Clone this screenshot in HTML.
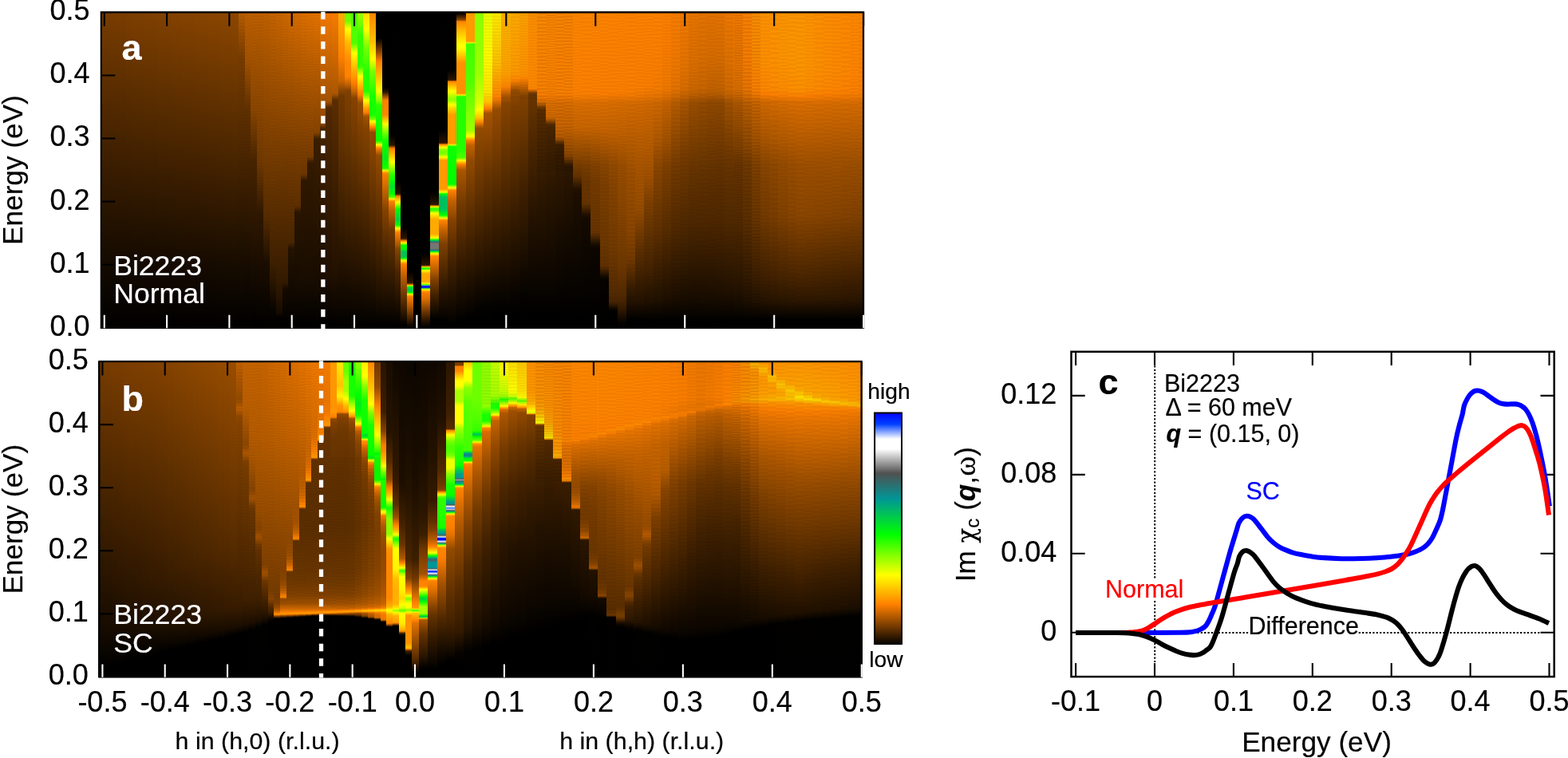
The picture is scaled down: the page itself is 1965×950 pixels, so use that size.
<!DOCTYPE html>
<html lang="en"><head><meta charset="utf-8"><title>Bi2223 charge susceptibility</title>
<style>html,body{margin:0;padding:0;background:#fff}#fig{position:relative;width:1965px;height:950px;overflow:hidden;background:#fff;font-family:"Liberation Sans", sans-serif}.hm{position:absolute;overflow:hidden;background:#000}.hm i{position:absolute;top:0;bottom:0;display:block}svg{position:absolute;left:0;top:0}text{font-family:"Liberation Sans", sans-serif;white-space:pre;stroke-width:.2px;stroke-linejoin:round}</style></head><body><div id="fig">
<div class="hm" style="left:125.8px;top:14.8px;width:957.7px;height:397.0px">
<i style="left:0.68px;width:8.43px;background:linear-gradient(#773c00 0px,#150b00 309px,#000 397px)"></i>
<i style="left:8.52px;width:8.43px;background:linear-gradient(#783c00 0px,#150b00 308px,#000 397px)"></i>
<i style="left:16.35px;width:8.43px;background:linear-gradient(#793d00 0px,#160b00 307px,#000 397px)"></i>
<i style="left:24.18px;width:8.43px;background:linear-gradient(#7a3d00 0px,#160b00 306px,#000 397px)"></i>
<i style="left:32.01px;width:8.43px;background:linear-gradient(#7c3e00 0px,#170b00 305px,#000 397px)"></i>
<i style="left:39.84px;width:8.43px;background:linear-gradient(#7d3f00 0px,#170c00 304px,#000 397px)"></i>
<i style="left:47.68px;width:8.43px;background:linear-gradient(#7e3f00 0px,#170c00 304px,#000 397px)"></i>
<i style="left:55.51px;width:8.43px;background:linear-gradient(#7f4000 0px,#180c00 303px,#000 397px)"></i>
<i style="left:63.34px;width:8.43px;background:linear-gradient(#804000 0px,#180c00 302px,#000 397px)"></i>
<i style="left:71.17px;width:8.43px;background:linear-gradient(#814100 0px,#190d00 301px,#000 397px)"></i>
<i style="left:79.00px;width:8.43px;background:linear-gradient(#824100 0px,#190d00 300px,#000 396px,#000 397px)"></i>
<i style="left:86.84px;width:8.43px;background:linear-gradient(#834200 0px,#190d00 302px,#000 396px,#000 397px)"></i>
<i style="left:94.67px;width:8.43px;background:linear-gradient(#844200 0px,#190d00 303px,#000 396px,#000 397px)"></i>
<i style="left:102.50px;width:8.43px;background:linear-gradient(#854300 0px,#190c00 305px,#000 396px,#000 397px)"></i>
<i style="left:110.33px;width:8.43px;background:linear-gradient(#864300 0px,#190c00 306px,#000 396px,#000 397px)"></i>
<i style="left:118.16px;width:8.43px;background:linear-gradient(#874400 0px,#180c00 308px,#000 396px,#000 397px)"></i>
<i style="left:126.00px;width:8.43px;background:linear-gradient(#840 0px,#180c00 310px,#000 396px,#000 397px)"></i>
<i style="left:133.83px;width:8.43px;background:linear-gradient(#894500 0px,#180c00 311px,#000 396px,#000 397px)"></i>
<i style="left:141.66px;width:8.43px;background:linear-gradient(#8a4500 0px,#180c00 313px,#000 396px,#000 397px)"></i>
<i style="left:149.49px;width:8.43px;background:linear-gradient(#8b4600 0px,#170c00 315px,#000 396px,#000 397px)"></i>
<i style="left:157.32px;width:8.43px;background:linear-gradient(#8c4600 0px,#170c00 317px,#000 396px,#000 397px)"></i>
<i style="left:165.16px;width:8.43px;background:linear-gradient(#8d4700 0px,#170c00 317px,#000 396px,#000 397px)"></i>
<i style="left:172.99px;width:8.43px;background:linear-gradient(#bb5e00 0px,#7a3d00 57px,#1f1000 294px,#000 395px,#000 397px)"></i>
<i style="left:180.82px;width:8.43px;background:linear-gradient(#c06000 0px,#a55300 61px,#623100 121px,#140a00 327px,#000 396px,#000 397px)"></i>
<i style="left:188.65px;width:8.43px;background:linear-gradient(#c06000 0px,#8b4600 123px,#482400 187px,#000 390px,#000 397px)"></i>
<i style="left:196.48px;width:8.43px;background:linear-gradient(#c06000 0px,#6f3800 191px,#311800 252px,#000 394px,#000 397px)"></i>
<i style="left:204.32px;width:8.43px;background:linear-gradient(#c26200 0px,#683400 219px,#582c00 256px,#1c0e00 314px,#000 394px,#000 397px)"></i>
<i style="left:212.15px;width:8.43px;background:linear-gradient(#c76400 0px,#6d3700 206px,#3f2000 315px,#070400 374px,#000 395px,#000 397px)"></i>
<i style="left:219.98px;width:8.43px;background:linear-gradient(#c60 0px,#713900 196px,#3d1f00 321px,#281400 356px,#160b00 376px,#030100 383px,#000 397px)"></i>
<i style="left:227.81px;width:8.43px;background:linear-gradient(#d06900 0px,#743a00 189px,#3c1e00 324px,#311800 340px,#150a00 347px,#000 392px,#000 397px)"></i>
<i style="left:235.64px;width:8.43px;background:linear-gradient(#d56b00 0px,#783c00 181px,#4b2600 289px,#311900 294px,#231200 297px,#0f0700 359px,#000 393px,#000 397px)"></i>
<i style="left:243.48px;width:8.43px;background:linear-gradient(#da6d00 0px,#7b3e00 176px,#5f3000 243px,#4e2700 246px,#301800 250px,#2a1500 253px,#150b00 344px,#000 393px,#000 397px)"></i>
<i style="left:251.31px;width:8.43px;background:linear-gradient(#df7000 0px,#7e3f00 171px,#6e3700 203px,#5a2d00 206px,#371c00 210px,#301800 212px,#190d00 334px,#000 393px,#000 397px)"></i>
<i style="left:259.14px;width:8.43px;background:linear-gradient(#e37200 0px,#804000 168px,#783c00 181px,#623100 184px,#3c1e00 188px,#341a00 190px,#190d00 334px,#000 393px,#000 397px)"></i>
<i style="left:266.97px;width:8.43px;background:linear-gradient(#e87400 0px,#840 151px,#6f3800 154px,#452300 158px,#3c1e00 160px,#281400 264px,#140a00 347px,#000 393px,#000 397px)"></i>
<i style="left:274.80px;width:8.43px;background:linear-gradient(#ed7700 0px,#904800 139px,#814100 141px,#4c2600 146px,#432200 148px,#2e1700 240px,#1a0d00 337px,#000 392px,#000 397px)"></i>
<i style="left:282.64px;width:8.43px;background:linear-gradient(#f27900 0px,#a25200 112px,#934a00 114px,#5a2d00 119px,#502800 121px,#351a00 231px,#1f0f00 330px,#000 392px,#000 397px)"></i>
<i style="left:290.47px;width:8.43px;background:linear-gradient(#f67c00 0px,#ab5600 102px,#9c4e00 104px,#643200 109px,#5a2d00 111px,#3a1d00 227px,#241200 322px,#0c0600 370px,#000 391px,#000 397px)"></i>
<i style="left:298.30px;width:8.43px;background:linear-gradient(#ffaf00 0px,#fd7f00 56px,#c66300 87px,#904800 97px,#6e3700 106px,#5f3000 166px,#0e0700 368px,#000 394px,#000 397px)"></i>
<i style="left:306.13px;width:8.43px;background:linear-gradient(#6cff00 0px,#6cff00 11px,#72ff00 12px,#f4ff00 21px,#fffe00 22px,#fb0 38px,#ff8700 63px,#ff8100 81px,#b95d00 92px,#7f4000 99px,#3d1f00 263px,#0c0600 371px,#000 395px,#000 397px)"></i>
<i style="left:313.96px;width:8.43px;background:linear-gradient(#4fff00 0px,#4fff00 39px,#f5ff00 51px,#fffe00 52px,#ffb600 71px,#fe7f00 89px,#c16100 100px,#864300 108px,#0e0700 371px,#000 394px,#000 397px)"></i>
<i style="left:321.80px;width:8.43px;background:linear-gradient(#a7ff00 0px,#32ff00 30px,#32ff00 68px,#f4ff00 80px,#fffd00 81px,#ff8e00 100px,#ff8200 103px,#fb7e00 104px,#954b00 114px,#783c00 157px,#0c0600 373px,#000 394px,#000 397px)"></i>
<i style="left:329.63px;width:8.43px;background:linear-gradient(#ffd700 0px,#fdff00 22px,#7cff00 43px,#23ff00 75px,#23ff00 99px,#79ff00 105px,#fcff00 111px,#ffd700 115px,#ff9a00 121px,#ff8400 125px,#fa7e00 126px,#b05800 130px,#a25100 131px,#844200 146px,#0f0800 370px,#000 394px,#000 397px)"></i>
<i style="left:337.46px;width:8.43px;background:linear-gradient(#ff8300 0px,#ffc200 38px,#ff0 59px,#7cff00 74px,#15ff00 106px,#15ff00 129px,#6aff00 134px,#c7ff00 136px,#f8ff00 137px,#fff000 138px,#ff8900 144px,#f77c00 145px,#a05100 150px,#934a00 151px,#3e1f00 293px,#0c0600 376px,#000 394px,#000 397px)"></i>
<i style="left:345.29px;width:8.43px;background:linear-gradient(#000 0px,#000 33px,#964c00 51px,#ff8000 62px,#fffe00 99px,#7aff00 112px,#26ff00 117px,#06ff00 160px,#0bff00 161px,#68ff00 164px,#abff00 165px,#f4ff00 166px,#ffe800 167px,#fd7f00 171px,#9b4e00 179px,#934a00 180px,#643200 243px,#1f1000 354px,#000 393px,#000 397px)"></i>
<i style="left:353.12px;width:8.43px;background:linear-gradient(#000 0px,#000 95px,#271400 100px,#341a00 101px,#f17900 110px,#ff8000 111px,#ff8700 129px,#fff700 140px,#fcff00 141px,#79ff00 151px,#14ff00 161px,#00ff01 169px,#00ed19 183px,#03ff00 192px,#1f0 195px,#1dff00 196px,#54ff00 197px,#bdff00 198px,#ffec00 199px,#ff8500 202px,#fa7d00 204px,#844200 248px,#532a00 292px,#100800 375px,#000 392px,#000 397px)"></i>
<i style="left:360.96px;width:8.43px;background:linear-gradient(#000 0px,#020100 155px,#2c1600 167px,#5d2f00 168px,#cf6800 170px,#ff8100 171px,#fffc00 188px,#e9ff00 190px,#2cff00 204px,#2f0 205px,#1f0 210px,#00fe02 212px,#00e22a 218px,#00e12a 219px,#00fe02 228px,#0eff00 229px,#57ff00 232px,#7dff00 233px,#ef0 234px,#ffdb00 235px,#ff8600 237px,#fa7e00 238px,#c46200 248px,#6e3700 273px,#371c00 329px,#0e0700 377px,#000 393px,#000 397px)"></i>
<i style="left:368.79px;width:8.43px;background:linear-gradient(#000 0px,#020100 213px,#2c1600 228px,#6c3600 229px,#ff8100 231px,#fff600 238px,#f2ff00 239px,#04ff00 247px,#00f809 249px,#00d33f 260px,#00fe01 267px,#36ff00 268px,#f5ff00 271px,#ffe900 272px,#ff8400 276px,#f07900 279px,#ab5600 292px,#864300 297px,#482400 327px,#000 392px,#000 397px)"></i>
<i style="left:376.62px;width:8.43px;background:linear-gradient(#000 0px,#000 270px,#2c1600 284px,#743a00 285px,#c86400 286px,#ff8f00 287px,#ffe300 289px,#dbff00 290px,#0fff00 292px,#0f0 293px,#00fe01 297px,#00c750 300px,#00c454 302px,#00c454 307px,#00e22a 308px,#0fff00 309px,#dbff00 311px,#ffec00 312px,#ff9600 315px,#fe7f00 316px,#bd5f00 331px,#733a00 353px,#000 392px,#000 397px)"></i>
<i style="left:384.45px;width:8.43px;background:linear-gradient(#000 0px,#000 325px,#2a1500 339px,#4a2500 340px,#f27a00 342px,#e9ff00 343px,#00fe02 344px,#00cf45 346px,#00cb4a 347px,#00cb4a 349px,#00d240 350px,#00fc04 352px,#b5ff00 353px,#ffe400 354px,#ff9200 356px,#fc7e00 357px,#b85c00 368px,#2d1600 388px,#000 395px,#000 397px)"></i>
<i style="left:392.28px;width:10.11px;background:linear-gradient(#000 0px,#000 397px)"></i>
<i style="left:401.80px;width:11.80px;background:linear-gradient(#000 0px,#000 303px,#2a1500 317px,#6a3500 318px,#ff9700 319px,#bf0 320px,#15ff00 321px,#1bff00 322px,#96ff00 323px,#fffc00 324px,#ffa800 328px,#ffa500 332px,#ffa500 338px,#ffc200 339px,#ffe500 340px,#ceff00 341px,#0aff00 342px,#5781ff 343px,#00f 344px,#00f 345px,#148484 346px,#75ff00 347px,#fff100 348px,#ffa200 350px,#fe8000 351px,#da6d00 360px,#703800 375px,#261300 387px,#000 395px,#000 397px)"></i>
<i style="left:412.99px;width:11.80px;background:linear-gradient(#000 0px,#000 226px,#2a1500 241px,#4c2600 242px,#ff8d00 243px,#ffe000 244px,#b2ff00 245px,#38ff00 246px,#32ff00 247px,#32ff00 248px,#4bff00 249px,#f6ff00 252px,#fff500 253px,#fa0 260px,#fa0 278px,#ffb200 279px,#fff900 283px,#b4ff00 284px,#40ff00 285px,#00e624 286px,#00af72 287px,#1f7b7b 288px,#616161 289px,#757575 290px,#757575 297px,#336a6a 298px,#009991 299px,#00db34 300px,#3cff00 301px,#c3ff00 302px,#ffed00 303px,#ff8c00 306px,#ff8100 308px,#c56300 321px,#7d3f00 336px,#412100 355px,#000 385px,#000 397px)"></i>
<i style="left:424.19px;width:11.80px;background:linear-gradient(#000 0px,#020100 149px,#2b1500 164px,#7b3e00 165px,#f80 166px,#ffed00 169px,#efff00 170px,#81ff00 173px,#7bff00 174px,#7bff00 178px,#b8ff00 180px,#faff00 182px,#ffcd00 184px,#ff9b00 186px,#ff9b00 222px,#fc0 224px,#ffe600 225px,#f8ff00 226px,#72ff00 227px,#00fd03 228px,#00c05a 232px,#00be5e 236px,#00be5e 247px,#00f909 254px,#1f0 255px,#daff00 258px,#ffe800 259px,#ff8300 261px,#bc5e00 275px,#7d3f00 291px,#2f1800 345px,#000 387px,#000 397px)"></i>
<i style="left:435.39px;width:11.80px;background:linear-gradient(#000 0px,#000 72px,#2a1500 85px,#6a3500 86px,#ff8200 87px,#fffb00 99px,#ecff00 101px,#9aff00 108px,#98ff00 111px,#fcff00 116px,#ffd100 121px,#ff9c00 129px,#ff9b00 165px,#ffdc00 166px,#b9ff00 167px,#3aff00 168px,#0dff00 169px,#0f0 215px,#03ff00 216px,#ebff00 220px,#ffe400 221px,#ff9200 223px,#fc7f00 224px,#c46200 236px,#824100 262px,#452200 311px,#000 393px,#000 397px)"></i>
<i style="left:446.58px;width:11.80px;background:linear-gradient(#000 0px,#000 1px,#060300 2px,#8c4600 10px,#ff8200 12px,#ffc900 27px,#ff0 41px,#ff0 45px,#ffac00 59px,#ff9200 64px,#ff9100 102px,#ffba00 103px,#ffe900 104px,#9aff00 105px,#23ff00 106px,#23ff00 173px,#4eff00 183px,#87ff00 184px,#c8ff00 185px,#fffb00 186px,#fd7f00 191px,#ab5600 198px,#723900 240px,#361b00 312px,#000 388px,#000 397px)"></i>
<i style="left:457.78px;width:11.80px;background:linear-gradient(#ff9b00 0px,#ff9b00 37px,#ffd400 38px,#c7ff00 39px,#41ff00 40px,#52ff00 87px,#84ff00 127px,#98ff00 148px,#f5ff00 155px,#fff900 156px,#fd7f00 161px,#c16100 167px,#934a00 186px,#542a00 261px,#000 383px,#000 397px)"></i>
<i style="left:468.97px;width:11.80px;background:linear-gradient(#8aff00 0px,#9bff00 76px,#d6ff00 113px,#feff00 123px,#ffbf00 133px,#ff8200 138px,#9e4f00 145px,#934a00 146px,#6d3700 207px,#3f2000 278px,#040200 371px,#000 386px,#000 397px)"></i>
<i style="left:480.17px;width:11.80px;background:linear-gradient(#e9ff00 0px,#fffd00 55px,#ffe800 100px,#ffc300 112px,#fd7f00 121px,#a45200 127px,#630 204px,#301800 294px,#030200 370px,#000 390px,#000 397px)"></i>
<i style="left:491.37px;width:11.80px;background:linear-gradient(#ffeb00 0px,#ffbf00 65px,#ff8500 106px,#ff8100 107px,#954b00 122px,#412100 253px,#060300 363px,#000 379px,#000 397px)"></i>
<i style="left:502.56px;width:11.80px;background:linear-gradient(#ffb400 0px,#ffa200 76px,#ff8700 93px,#fb7e00 95px,#a85400 106px,#854300 115px,#2d1700 283px,#0a0500 355px,#000 376px,#000 397px)"></i>
<i style="left:513.76px;width:11.80px;background:linear-gradient(#fa0 0px,#f90 75px,#ff8700 85px,#ff8200 86px,#e07100 90px,#954b00 99px,#7c3e00 118px,#2d1700 273px,#060300 359px,#000 377px,#000 397px)"></i>
<i style="left:524.95px;width:11.80px;background:linear-gradient(#ffa000 0px,#ff9100 80px,#ff8100 84px,#a75400 99px,#814100 106px,#422100 216px,#030200 359px,#000 385px,#000 397px)"></i>
<i style="left:536.15px;width:11.80px;background:linear-gradient(#ff8e00 0px,#f80 95px,#ff8400 96px,#f47b00 97px,#be5f00 99px,#864300 101px,#723900 102px,#693500 103px,#482400 173px,#210 264px,#000 378px,#000 397px)"></i>
<i style="left:547.35px;width:11.80px;background:linear-gradient(#ff8b00 0px,#ff8400 101px,#fe7f00 105px,#e37200 112px,#c06100 115px,#713900 120px,#5d2f00 122px,#582c00 126px,#2d1700 224px,#000 378px,#000 397px)"></i>
<i style="left:558.54px;width:11.80px;background:linear-gradient(#ff8900 0px,#ff8300 102px,#fd7f00 105px,#e07100 114px,#d36a00 132px,#c16100 134px,#633200 140px,#4f2800 142px,#4a2500 146px,#2b1600 219px,#000 379px,#000 397px)"></i>
<i style="left:569.74px;width:11.80px;background:linear-gradient(#ff8700 0px,#ff8200 102px,#fc7e00 105px,#df7000 114px,#ca6500 145px,#b65b00 157px,#a35200 159px,#4e2700 165px,#3d1f00 167px,#341a00 181px,#130a00 295px,#000 381px,#000 397px)"></i>
<i style="left:580.93px;width:11.80px;background:linear-gradient(#ff8600 0px,#ff8200 102px,#fb7e00 105px,#df7000 114px,#c96500 145px,#9f5000 170px,#8b4600 180px,#713900 184px,#391c00 191px,#2c1600 194px,#0e0700 309px,#000 383px,#000 397px)"></i>
<i style="left:592.13px;width:11.80px;background:linear-gradient(#ff8600 0px,#ff8100 102px,#fa7e00 105px,#de7000 114px,#c96500 145px,#a05100 169px,#723900 196px,#643200 206px,#261300 221px,#1e0f00 226px,#000 383px,#000 397px)"></i>
<i style="left:603.33px;width:11.80px;background:linear-gradient(#ff8500 0px,#ff8100 102px,#f37a00 107px,#de6f00 114px,#c96500 145px,#a25200 168px,#793d00 193px,#6a3500 213px,#630 239px,#542a00 244px,#1c0e00 255px,#140a00 260px,#000 386px,#000 397px)"></i>
<i style="left:614.52px;width:11.80px;background:linear-gradient(#ff8500 0px,#ff8000 102px,#e87500 110px,#dd6f00 114px,#c96500 145px,#814100 193px,#743a00 214px,#683400 275px,#582c00 280px,#1a0d00 291px,#0d0600 296px,#000 388px,#000 397px)"></i>
<i style="left:625.72px;width:11.80px;background:linear-gradient(#ff8400 0px,#fe7f00 103px,#dd6f00 114px,#c86400 147px,#894500 193px,#7d3f00 216px,#6d3700 288px,#613100 317px,#532a00 321px,#100800 332px,#060300 336px,#000 391px,#000 397px)"></i>
<i style="left:636.91px;width:11.80px;background:linear-gradient(#ff8400 0px,#fd7f00 102px,#db6e00 114px,#c56300 149px,#924900 193px,#864300 221px,#733a00 293px,#562b00 350px,#472400 363px,#311900 367px,#080400 373px,#000 376px,#000 397px)"></i>
<i style="left:648.11px;width:11.80px;background:linear-gradient(#ff8300 0px,#fd7f00 100px,#f87c00 104px,#da6d00 114px,#c06100 153px,#994d00 194px,#8c4600 240px,#6d3700 320px,#522900 356px,#361b00 371px,#060300 389px,#000 397px)"></i>
<i style="left:659.31px;width:11.80px;background:linear-gradient(#ff8200 0px,#fd7f00 98px,#f67c00 104px,#d86c00 114px,#b95d00 161px,#a05000 199px,#894500 273px,#723900 310px,#331a00 349px,#201000 365px,#000 386px,#000 397px)"></i>
<i style="left:670.50px;width:11.80px;background:linear-gradient(#ff8200 0px,#fc7f00 96px,#f47a00 104px,#d66b00 114px,#a50 193px,#964c00 248px,#763b00 276px,#5e2f00 299px,#231100 363px,#000 386px,#000 397px)"></i>
<i style="left:681.70px;width:11.80px;background:linear-gradient(#ff8200 0px,#fb7e00 93px,#f07800 104px,#d36a00 114px,#ac5600 187px,#a05000 207px,#7f4000 238px,#412100 326px,#1e0f00 364px,#000 387px,#000 397px)"></i>
<i style="left:692.89px;width:11.80px;background:linear-gradient(#ff8200 0px,#fb7e00 78px,#f67c00 97px,#e87500 105px,#cf6800 114px,#ae5700 162px,#8c4600 193px,#5f2f00 274px,#211100 359px,#000 387px,#000 397px)"></i>
<i style="left:704.09px;width:11.80px;background:linear-gradient(#ff8000 0px,#f47a00 86px,#ef7800 97px,#e07000 105px,#c66300 114px,#a05100 162px,#804000 193px,#572c00 273px,#1c0e00 361px,#000 387px,#000 397px)"></i>
<i style="left:715.29px;width:11.80px;background:linear-gradient(#f97d00 0px,#f07800 65px,#e67300 96px,#d36a00 105px,#b75c00 114px,#8a4500 169px,#743a00 194px,#502800 273px,#1a0d00 360px,#000 387px,#000 397px)"></i>
<i style="left:726.48px;width:11.80px;background:linear-gradient(#f27900 0px,#e77400 61px,#da6d00 96px,#c66300 105px,#a95500 114px,#743a00 184px,#492500 279px,#150b00 364px,#000 388px,#000 397px)"></i>
<i style="left:737.68px;width:11.80px;background:linear-gradient(#e97500 0px,#dc6f00 60px,#cd6700 96px,#bd5f00 104px,#9b4e00 114px,#673400 198px,#4b2600 269px,#140a00 364px,#000 388px,#000 397px)"></i>
<i style="left:748.87px;width:11.80px;background:linear-gradient(#e77400 0px,#d96d00 59px,#c96500 96px,#b85c00 104px,#954b00 114px,#653300 199px,#4c2600 267px,#160b00 362px,#000 388px,#000 397px)"></i>
<i style="left:760.07px;width:11.80px;background:linear-gradient(#e67300 0px,#d66c00 58px,#c26200 97px,#b45a00 104px,#914900 113px,#633200 199px,#4d2600 265px,#170c00 361px,#000 388px,#000 397px)"></i>
<i style="left:771.27px;width:11.80px;background:linear-gradient(#e77400 0px,#d66c00 59px,#c36200 97px,#b45b00 104px,#914900 113px,#623100 198px,#4e2700 263px,#1a0d00 359px,#000 387px,#000 397px)"></i>
<i style="left:782.46px;width:11.80px;background:linear-gradient(#ef7800 0px,#df7000 63px,#d06800 97px,#c36200 104px,#a05100 114px,#6e3700 181px,#653300 198px,#512900 262px,#211000 351px,#0b0500 375px,#000 388px,#000 397px)"></i>
<i style="left:793.66px;width:11.80px;background:linear-gradient(#f77c00 0px,#e77400 72px,#dd6f00 97px,#d16900 104px,#b15900 114px,#834200 166px,#693400 192px,#542a00 261px,#271400 344px,#170c00 365px,#000 387px,#000 397px)"></i>
<i style="left:804.85px;width:11.80px;background:linear-gradient(#ff8400 0px,#fc7f00 56px,#e70 97px,#e27100 104px,#bf6000 114px,#934a00 163px,#723900 192px,#5d2f00 260px,#301800 338px,#1c0e00 364px,#000 387px,#000 397px)"></i>
<i style="left:816.05px;width:11.80px;background:linear-gradient(#ff8f00 0px,#ff8a00 64px,#ff8200 97px,#f77c00 103px,#cd6700 113px,#a35200 162px,#814100 192px,#6b3600 258px,#3a1d00 334px,#211100 363px,#000 386px,#000 397px)"></i>
<i style="left:827.25px;width:11.80px;background:linear-gradient(#ff9200 0px,#ff8f00 62px,#ff8700 97px,#fe8000 103px,#d26900 113px,#a95500 162px,#894500 192px,#733a00 257px,#3f1f00 333px,#251300 362px,#000 386px,#000 397px)"></i>
<i style="left:838.44px;width:11.80px;background:linear-gradient(#ff9300 0px,#ff9100 63px,#ff8a00 97px,#fe7f00 104px,#d56b00 113px,#ac5700 163px,#8f4800 192px,#7a3d00 256px,#432100 332px,#271400 362px,#000 386px,#000 397px)"></i>
<i style="left:849.64px;width:11.80px;background:linear-gradient(#ff9400 0px,#ff9300 63px,#ff8c00 97px,#fd7f00 105px,#d86d00 113px,#af5800 165px,#954b00 192px,#814100 255px,#462300 332px,#291500 362px,#000 386px,#000 397px)"></i>
<i style="left:860.83px;width:11.80px;background:linear-gradient(#ff9500 0px,#ff9500 64px,#ff8f00 97px,#ff8500 104px,#f87c00 107px,#dc6e00 113px,#b15900 167px,#9a4d00 193px,#840 254px,#4a2500 331px,#2b1600 362px,#000 386px,#000 397px)"></i>
<i style="left:872.03px;width:11.80px;background:linear-gradient(#ff9500 0px,#ff9600 64px,#ff9000 97px,#ff8500 104px,#fe7f00 106px,#de6f00 113px,#b25900 169px,#9e4f00 193px,#8c4600 254px,#4a2500 333px,#2e1700 361px,#000 386px,#000 397px)"></i>
<i style="left:883.23px;width:11.80px;background:linear-gradient(#ff9200 0px,#ff9300 66px,#ff8d00 97px,#ff8000 105px,#dd6f00 113px,#af5800 172px,#9e4f00 194px,#8b4600 254px,#432100 340px,#2c1600 362px,#000 386px,#000 397px)"></i>
<i style="left:894.42px;width:11.80px;background:linear-gradient(#ff8f00 0px,#ff8f00 69px,#ff8a00 97px,#ff8000 104px,#db6e00 114px,#ae5700 173px,#9e4f00 194px,#8a4500 254px,#361b00 353px,#291500 363px,#000 386px,#000 397px)"></i>
<i style="left:905.62px;width:11.80px;background:linear-gradient(#ff8d00 0px,#ff8c00 72px,#ff8700 97px,#ff8000 103px,#da6d00 114px,#a50 177px,#9d4f00 196px,#840 254px,#2f1800 359px,#000 386px,#000 397px)"></i>
<i style="left:916.81px;width:11.80px;background:linear-gradient(#ff8b00 0px,#ff8900 74px,#ff8500 97px,#fd7f00 103px,#d96d00 114px,#a45200 183px,#974c00 212px,#864300 255px,#2d1700 360px,#000 386px,#000 397px)"></i>
<i style="left:928.01px;width:11.80px;background:linear-gradient(#ff8900 0px,#ff8700 77px,#ff8200 98px,#f87d00 104px,#d86d00 114px,#9c4e00 195px,#844200 255px,#2b1500 361px,#000 386px,#000 397px)"></i>
<i style="left:939.21px;width:11.80px;background:linear-gradient(#ff8700 0px,#ff8400 79px,#fd7f00 100px,#f77c00 104px,#d86c00 114px,#9b4e00 195px,#824100 255px,#2a1500 361px,#000 386px,#000 397px)"></i>
<i style="left:950.40px;width:7.65px;background:linear-gradient(#ff8500 0px,#ff8100 83px,#fb7e00 99px,#f57b00 104px,#d76c00 114px,#9a4d00 196px,#804000 256px,#281400 362px,#000 386px,#000 397px)"></i>
<i style="left:173.29px;width:7.83px;top:0.5px;height:330.0px;background:repeating-linear-gradient(#0000 0,#0001 2.05px,#0000 4.10px)"></i>
<i style="left:181.12px;width:7.83px;top:0.5px;height:330.0px;background:repeating-linear-gradient(#0000 0,#0001 1.35px,#0000 2.70px)"></i>
<i style="left:188.95px;width:7.83px;top:0.5px;height:330.0px;background:repeating-linear-gradient(#0000 0,#0001 1.87px,#0000 3.73px)"></i>
<i style="left:196.78px;width:7.83px;top:0.5px;height:330.0px;background:repeating-linear-gradient(#0000 0,#0001 1.81px,#0000 3.61px)"></i>
<i style="left:204.62px;width:7.83px;top:0.5px;height:330.0px;background:repeating-linear-gradient(#0000 0,#0001 1.38px,#0000 2.76px)"></i>
<i style="left:212.45px;width:7.83px;top:0.5px;height:330.0px;background:repeating-linear-gradient(#0000 0,#0001 2.07px,#0000 4.13px)"></i>
<i style="left:220.28px;width:7.83px;top:0.5px;height:330.0px;background:repeating-linear-gradient(#0000 0,#0001 1.48px,#0000 2.96px)"></i>
<i style="left:228.11px;width:7.83px;top:0.5px;height:330.0px;background:repeating-linear-gradient(#0000 0,#0001 1.66px,#0000 3.32px)"></i>
<i style="left:235.94px;width:7.83px;top:0.5px;height:330.0px;background:repeating-linear-gradient(#0000 0,#0001 1.98px,#0000 3.96px)"></i>
<i style="left:243.78px;width:7.83px;top:0.5px;height:330.0px;background:repeating-linear-gradient(#0000 0,#0001 1.33px,#0000 2.65px)"></i>
<i style="left:251.61px;width:7.83px;top:0.5px;height:330.0px;background:repeating-linear-gradient(#0000 0,#0001 1.97px,#0000 3.94px)"></i>
<i style="left:259.44px;width:7.83px;top:0.5px;height:330.0px;background:repeating-linear-gradient(#0000 0,#0001 1.68px,#0000 3.36px)"></i>
<i style="left:267.27px;width:7.83px;top:0.5px;height:330.0px;background:repeating-linear-gradient(#0000 0,#0001 1.46px,#0000 2.93px)"></i>
<i style="left:480.47px;width:11.20px;top:0.5px;height:110.0px;background:repeating-linear-gradient(#0000 0,#0001 1.93px,#0000 3.87px)"></i>
<i style="left:491.67px;width:11.20px;top:0.5px;height:110.0px;background:repeating-linear-gradient(#0000 0,#0001 1.95px,#0000 3.91px)"></i>
<i style="left:502.86px;width:11.20px;top:0.5px;height:110.0px;background:repeating-linear-gradient(#0000 0,#0001 1.44px,#0000 2.88px)"></i>
<i style="left:514.06px;width:11.20px;top:0.5px;height:110.0px;background:repeating-linear-gradient(#0000 0,#0001 2.18px,#0000 4.35px)"></i>
<i style="left:525.25px;width:11.20px;top:0.5px;height:110.0px;background:repeating-linear-gradient(#0000 0,#0001 1.61px,#0000 3.21px)"></i>
<i style="left:536.45px;width:11.20px;top:0.5px;height:110.0px;background:repeating-linear-gradient(#0000 0,#0001 1.71px,#0000 3.42px)"></i>
<i style="left:547.65px;width:11.20px;top:0.5px;height:200.0px;background:repeating-linear-gradient(#0000 0,#0002 2.25px,#0000 4.49px)"></i>
<i style="left:558.84px;width:11.20px;top:0.5px;height:200.0px;background:repeating-linear-gradient(#0000 0,#0002 1.49px,#0000 2.97px)"></i>
<i style="left:570.04px;width:11.20px;top:0.5px;height:200.0px;background:repeating-linear-gradient(#0000 0,#0002 2.16px,#0000 4.33px)"></i>
<i style="left:581.23px;width:11.20px;top:0.5px;height:200.0px;background:repeating-linear-gradient(#0000 0,#0002 1.92px,#0000 3.85px)"></i>
<i style="left:592.43px;width:11.20px;top:0.5px;height:360.0px;background:repeating-linear-gradient(#0000 0,#0001 1.77px,#0000 3.54px)"></i>
<i style="left:603.63px;width:11.20px;top:0.5px;height:360.0px;background:repeating-linear-gradient(#0000 0,#0001 2.56px,#0000 5.12px)"></i>
<i style="left:614.82px;width:11.20px;top:0.5px;height:360.0px;background:repeating-linear-gradient(#0000 0,#0001 1.75px,#0000 3.50px)"></i>
<i style="left:626.02px;width:11.20px;top:0.5px;height:360.0px;background:repeating-linear-gradient(#0000 0,#0001 2.15px,#0000 4.30px)"></i>
<i style="left:637.21px;width:11.20px;top:0.5px;height:360.0px;background:repeating-linear-gradient(#0000 0,#0001 2.37px,#0000 4.74px)"></i>
<i style="left:648.41px;width:11.20px;top:0.5px;height:360.0px;background:repeating-linear-gradient(#0000 0,#0001 1.65px,#0000 3.29px)"></i>
<i style="left:659.61px;width:11.20px;top:0.5px;height:360.0px;background:repeating-linear-gradient(#0000 0,#0001 2.50px,#0000 4.99px)"></i>
<i style="left:670.80px;width:11.20px;top:0.5px;height:360.0px;background:repeating-linear-gradient(#0000 0,#0001 1.97px,#0000 3.94px)"></i>
<i style="left:682.00px;width:11.20px;top:0.5px;height:360.0px;background:repeating-linear-gradient(#0000 0,#0001 1.90px,#0000 3.79px)"></i>
<i style="left:693.19px;width:11.20px;top:0.5px;height:360.0px;background:repeating-linear-gradient(#0000 0,#0001 2.53px,#0000 5.06px)"></i>
<i style="left:704.39px;width:11.20px;top:0.5px;height:380.0px;background:repeating-linear-gradient(#0000 0,#0001 1.83px,#0000 3.66px)"></i>
<i style="left:715.59px;width:11.20px;top:0.5px;height:380.0px;background:repeating-linear-gradient(#0000 0,#0001 2.52px,#0000 5.05px)"></i>
<i style="left:726.78px;width:11.20px;top:0.5px;height:380.0px;background:repeating-linear-gradient(#0000 0,#0001 2.44px,#0000 4.89px)"></i>
<i style="left:737.98px;width:11.20px;top:0.5px;height:380.0px;background:repeating-linear-gradient(#0000 0,#0001 1.87px,#0000 3.73px)"></i>
<i style="left:749.17px;width:11.20px;top:0.5px;height:380.0px;background:repeating-linear-gradient(#0000 0,#0001 2.80px,#0000 5.59px)"></i>
<i style="left:760.37px;width:11.20px;top:0.5px;height:380.0px;background:repeating-linear-gradient(#0000 0,#0001 2.00px,#0000 4.01px)"></i>
<i style="left:771.57px;width:11.20px;top:0.5px;height:380.0px;background:repeating-linear-gradient(#0000 0,#0001 2.24px,#0000 4.48px)"></i>
<i style="left:782.76px;width:11.20px;top:0.5px;height:380.0px;background:repeating-linear-gradient(#0000 0,#0001 2.68px,#0000 5.37px)"></i>
<i style="left:793.96px;width:11.20px;top:0.5px;height:390.0px;background:repeating-linear-gradient(#0000 0,#0002 1.56px,#0000 3.12px)"></i>
<i style="left:805.15px;width:11.20px;top:0.5px;height:390.0px;background:repeating-linear-gradient(#0000 0,#0002 2.32px,#0000 4.63px)"></i>
<i style="left:816.35px;width:11.20px;top:0.5px;height:390.0px;background:repeating-linear-gradient(#0000 0,#0002 1.98px,#0000 3.95px)"></i>
<i style="left:827.55px;width:11.20px;top:0.5px;height:385.0px;background:repeating-linear-gradient(#0000 0,#0001 2.15px,#0000 4.30px)"></i>
<i style="left:838.74px;width:11.20px;top:0.5px;height:385.0px;background:repeating-linear-gradient(#0000 0,#0001 3.04px,#0000 6.09px)"></i>
<i style="left:849.94px;width:11.20px;top:0.5px;height:385.0px;background:repeating-linear-gradient(#0000 0,#0001 2.05px,#0000 4.09px)"></i>
<i style="left:861.13px;width:11.20px;top:0.5px;height:385.0px;background:repeating-linear-gradient(#0000 0,#0001 2.62px,#0000 5.25px)"></i>
<i style="left:872.33px;width:11.20px;top:0.5px;height:385.0px;background:repeating-linear-gradient(#0000 0,#0001 2.77px,#0000 5.54px)"></i>
<i style="left:883.53px;width:11.20px;top:0.5px;height:385.0px;background:repeating-linear-gradient(#0000 0,#0001 1.98px,#0000 3.95px)"></i>
<i style="left:894.72px;width:11.20px;top:0.5px;height:385.0px;background:repeating-linear-gradient(#0000 0,#0001 3.00px,#0000 6.00px)"></i>
<i style="left:905.92px;width:11.20px;top:0.5px;height:385.0px;background:repeating-linear-gradient(#0000 0,#0001 2.29px,#0000 4.57px)"></i>
<i style="left:917.11px;width:11.20px;top:0.5px;height:385.0px;background:repeating-linear-gradient(#0000 0,#0001 2.31px,#0000 4.63px)"></i>
<i style="left:928.31px;width:11.20px;top:0.5px;height:385.0px;background:repeating-linear-gradient(#0000 0,#0001 2.99px,#0000 5.97px)"></i>
<i style="left:939.51px;width:11.20px;top:0.5px;height:385.0px;background:repeating-linear-gradient(#0000 0,#0001 1.97px,#0000 3.94px)"></i>
<i style="left:950.70px;width:7.05px;top:0.5px;height:385.0px;background:repeating-linear-gradient(#0000 0,#0001 2.80px,#0000 5.59px)"></i>
</div>
<div class="hm" style="left:123.4px;top:452.6px;width:957.8px;height:396.8px">
<i style="left:0.78px;width:8.43px;background:linear-gradient(#773c00 0px,#130a00 343px,#000 385px,#000 397px)"></i>
<i style="left:8.62px;width:8.43px;background:linear-gradient(#783c00 0px,#160b00 338px,#000 383px,#000 397px)"></i>
<i style="left:16.45px;width:8.43px;background:linear-gradient(#793d00 0px,#1a0d00 327px,#000 381px,#000 397px)"></i>
<i style="left:24.28px;width:8.43px;background:linear-gradient(#7a3d00 0px,#1f0f00 317px,#080400 365px,#000 379px,#000 397px)"></i>
<i style="left:32.11px;width:8.43px;background:linear-gradient(#7c3e00 0px,#231200 307px,#110900 348px,#000 377px,#000 397px)"></i>
<i style="left:39.94px;width:8.43px;background:linear-gradient(#7d3f00 0px,#271300 299px,#140a00 343px,#000 375px,#000 397px)"></i>
<i style="left:47.78px;width:8.43px;background:linear-gradient(#7e3f00 0px,#2b1500 291px,#170b00 340px,#050200 364px,#000 376px,#000 397px)"></i>
<i style="left:55.61px;width:8.43px;background:linear-gradient(#7f4000 0px,#2e1700 285px,#190d00 337px,#050300 362px,#000 373px,#000 397px)"></i>
<i style="left:63.44px;width:8.43px;background:linear-gradient(#804000 0px,#311900 278px,#1b0d00 335px,#080400 359px,#000 369px,#000 397px)"></i>
<i style="left:71.27px;width:8.43px;background:linear-gradient(#824100 0px,#351a00 272px,#1d0f00 332px,#080400 357px,#000 366px,#000 397px)"></i>
<i style="left:79.10px;width:8.43px;background:linear-gradient(#834200 0px,#381c00 266px,#1f1000 330px,#0a0500 355px,#000 364px,#000 397px)"></i>
<i style="left:86.94px;width:8.43px;background:linear-gradient(#854300 0px,#3b1e00 262px,#211100 328px,#0b0500 353px,#000 362px,#000 397px)"></i>
<i style="left:94.77px;width:8.43px;background:linear-gradient(#874400 0px,#3e1f00 257px,#231200 326px,#0c0600 351px,#000 360px,#000 397px)"></i>
<i style="left:102.60px;width:8.43px;background:linear-gradient(#894500 0px,#412100 254px,#251300 324px,#0d0700 349px,#000 358px,#000 397px)"></i>
<i style="left:110.43px;width:8.43px;background:linear-gradient(#8b4600 0px,#420 250px,#271400 322px,#0f0700 347px,#000 356px,#000 397px)"></i>
<i style="left:118.26px;width:8.43px;background:linear-gradient(#8d4700 0px,#472400 246px,#291500 320px,#100800 345px,#000 354px,#000 397px)"></i>
<i style="left:126.10px;width:8.43px;background:linear-gradient(#8f4800 0px,#4a2500 243px,#2c1600 318px,#120900 343px,#000 352px,#000 397px)"></i>
<i style="left:133.93px;width:8.43px;background:linear-gradient(#914900 0px,#4c2600 240px,#2e1700 316px,#140a00 341px,#010000 350px,#000 397px)"></i>
<i style="left:141.76px;width:8.43px;background:linear-gradient(#934a00 0px,#4f2800 237px,#301800 314px,#150b00 339px,#000 349px,#000 397px)"></i>
<i style="left:149.59px;width:8.43px;background:linear-gradient(#954b00 0px,#522900 234px,#321900 312px,#170b00 337px,#000 347px,#000 397px)"></i>
<i style="left:157.42px;width:8.43px;background:linear-gradient(#974c00 0px,#552a00 231px,#351a00 310px,#180c00 335px,#000 345px,#000 397px)"></i>
<i style="left:165.26px;width:8.43px;background:linear-gradient(#994d00 0px,#572c00 229px,#371b00 308px,#1a0d00 333px,#000 343px,#000 397px)"></i>
<i style="left:173.09px;width:8.43px;background:linear-gradient(#c16100 0px,#964b00 47px,#9f5000 52px,#b75c00 58px,#b55b00 61px,#904800 69px,#874400 76px,#482400 273px,#381c00 307px,#1b0e00 331px,#010000 341px,#000 397px)"></i>
<i style="left:180.92px;width:8.43px;background:linear-gradient(#c76400 0px,#bc5f00 58px,#a25100 85px,#8f4800 103px,#964b00 108px,#ad5700 114px,#a50 117px,#824100 125px,#793d00 132px,#402000 298px,#1c0e00 329px,#010000 339px,#000 397px)"></i>
<i style="left:188.75px;width:8.43px;background:linear-gradient(#c76400 0px,#b75c00 92px,#a95500 125px,#874400 160px,#924900 165px,#a35200 170px,#a05000 173px,#753b00 181px,#6a3500 188px,#3f2000 300px,#1d0e00 327px,#020100 336px,#000 397px)"></i>
<i style="left:196.58px;width:8.43px;background:linear-gradient(#c76400 0px,#b75c00 92px,#984d00 188px,#864300 209px,#904800 214px,#a15100 219px,#9d4f00 222px,#703800 230px,#623100 237px,#512900 262px,#402000 298px,#1d0f00 324px,#010100 333px,#000 397px)"></i>
<i style="left:204.42px;width:8.43px;background:linear-gradient(#ca6500 0px,#b95d00 92px,#8c4600 228px,#824100 254px,#8e4700 259px,#a05000 264px,#9c4e00 267px,#703800 275px,#603000 283px,#482400 298px,#281400 316px,#1e0f00 321px,#010100 330px,#000 397px)"></i>
<i style="left:212.25px;width:8.43px;background:linear-gradient(#ce6800 0px,#bb5e00 92px,#840 238px,#783c00 287px,#840 297px,#7f4000 300px,#502800 308px,#3a1d00 315px,#050300 324px,#000 328px,#000 397px)"></i>
<i style="left:220.08px;width:8.43px;background:linear-gradient(#d36a00 0px,#be6000 91px,#763b00 292px,#7e3f00 302px,#8e4700 307px,#a25100 310px,#c46300 313px,#e97500 315px,#ff8100 316px,#ff9500 317px,#db6e00 318px,#8e4800 319px,#673400 320px,#301800 321px,#070300 322px,#000 323px,#000 397px)"></i>
<i style="left:227.91px;width:8.43px;background:linear-gradient(#d86d00 0px,#c16100 91px,#844200 257px,#8a4500 272px,#9a4d00 280px,#b55b00 286px,#d36a00 290px,#ff8200 294px,#ff8b00 295px,#ef7800 296px,#ab5600 297px,#904800 298px,#a15100 304px,#c60 310px,#fb7e00 314px,#ff9400 316px,#ff9200 317px,#ba5d00 318px,#4f2800 320px,#180c00 321px,#000 322px,#000 397px)"></i>
<i style="left:235.74px;width:8.43px;background:linear-gradient(#dd6f00 0px,#c46200 91px,#914900 225px,#994d00 240px,#ab5600 248px,#ca6500 254px,#ec7700 258px,#ff8300 260px,#ff8c00 261px,#e47300 262px,#8e4700 263px,#693500 264px,#733a00 280px,#824100 293px,#a15100 304px,#c60 310px,#fe8000 314px,#ff9800 316px,#ff8000 317px,#ac5600 318px,#753b00 319px,#331900 320px,#060300 321px,#000 322px,#000 397px)"></i>
<i style="left:243.58px;width:8.43px;background:linear-gradient(#e27100 0px,#c66300 91px,#a35200 180px,#a65300 200px,#b75c00 209px,#d26900 215px,#f17900 219px,#fb7e00 220px,#ff8d00 222px,#e37200 223px,#874400 224px,#5f3000 225px,#6d3700 274px,#824100 293px,#a15100 304px,#c60 310px,#e47200 312px,#ff8200 314px,#ff9b00 316px,#e97500 317px,#582c00 319px,#180c00 320px,#000 321px,#000 397px)"></i>
<i style="left:251.41px;width:8.43px;background:linear-gradient(#e77400 0px,#c86500 92px,#b75c00 140px,#bf6000 158px,#d16900 168px,#ec7600 175px,#ff8300 179px,#ff9200 182px,#e57300 183px,#864300 184px,#5b2e00 185px,#5f3000 227px,#6d3700 274px,#824100 293px,#a15100 304px,#c60 310px,#e47200 312px,#f57b00 313px,#ff8500 314px,#ff9400 315px,#ff9e00 316px,#d56b00 317px,#894500 318px,#361b00 319px,#050300 320px,#000 321px,#000 397px)"></i>
<i style="left:259.24px;width:8.43px;background:linear-gradient(#ec7600 0px,#cb6600 109px,#d46a00 125px,#e97500 136px,#ff8100 142px,#ff9d00 149px,#f17900 150px,#8d4700 151px,#5f3000 152px,#5c2e00 208px,#6a3500 265px,#733a00 280px,#824100 293px,#a15100 304px,#c60 310px,#e57300 312px,#f87c00 313px,#ff8900 314px,#f90 315px,#ff9d00 316px,#c46200 317px,#633200 318px,#190c00 319px,#000 320px,#000 397px)"></i>
<i style="left:267.07px;width:8.43px;background:linear-gradient(#f17900 0px,#dc6e00 74px,#df7000 94px,#f17900 106px,#ff8200 112px,#ff9e00 120px,#f47a00 121px,#904900 122px,#623100 123px,#5c2e00 207px,#6a3500 265px,#733a00 280px,#824100 293px,#a15100 304px,#c60 310px,#e67300 312px,#fb7e00 313px,#ff9d00 315px,#ff8a00 316px,#a25200 317px,#3c1e00 318px,#050200 319px,#000 321px,#000 397px)"></i>
<i style="left:274.90px;width:8.43px;background:linear-gradient(#f67b00 0px,#e47300 60px,#ec7700 78px,#ff8400 90px,#ff9e00 98px,#f57b00 99px,#934a00 100px,#653300 101px,#5b2e00 206px,#693500 264px,#733a00 280px,#824100 293px,#a15100 304px,#c60 310px,#e77400 312px,#ff8100 313px,#ffa100 315px,#f17900 316px,#723900 317px,#1a0d00 318px,#000 319px,#000 397px)"></i>
<i style="left:282.74px;width:8.43px;background:linear-gradient(#fb7e00 0px,#ee7800 46px,#f77c00 62px,#ff8200 69px,#ff9800 78px,#ff9f00 80px,#f67c00 81px,#954b00 82px,#673400 83px,#5b2e00 206px,#693500 264px,#733a00 280px,#824100 293px,#a15100 304px,#c60 310px,#d86d00 311px,#eb7600 312px,#ff8600 313px,#ff9a00 314px,#ffa400 315px,#d56b00 316px,#723900 317px,#201000 318px,#000 319px,#000 397px)"></i>
<i style="left:290.57px;width:8.43px;background:linear-gradient(#ff9b00 0px,#ff9300 57px,#ff9a00 63px,#ff8200 69px,#fc7f00 70px,#c86400 71px,#8c4600 72px,#8a4500 74px,#7e3f00 77px,#6c3600 94px,#603000 147px,#5c2e00 207px,#6a3500 265px,#733a00 280px,#824100 293px,#a15100 304px,#cc6700 310px,#da6d00 311px,#f07800 312px,#ff8d00 313px,#ffa100 314px,#ff9200 315px,#be5f00 316px,#291400 318px,#010100 319px,#000 397px)"></i>
<i style="left:298.40px;width:8.43px;background:linear-gradient(#ffeb00 0px,#ffc400 30px,#fff300 43px,#fff000 44px,#ff9500 55px,#ff8b00 60px,#f80 63px,#ed7700 64px,#8c4600 66px,#8b4600 68px,#7f4000 71px,#6d3700 88px,#613000 141px,#5c2e00 207px,#6a3500 265px,#733a00 280px,#824100 293px,#a15100 304px,#cd6700 310px,#dc6e00 311px,#f67c00 312px,#ff9400 313px,#ffa600 314px,#f57b00 315px,#ab5600 316px,#763b00 317px,#321900 318px,#050200 319px,#000 321px,#000 397px)"></i>
<i style="left:306.23px;width:8.43px;background:linear-gradient(#6cff00 0px,#6cff00 12px,#a7ff00 25px,#a7ff00 36px,#bcff00 39px,#ff0 47px,#ffb600 56px,#ff9300 63px,#f97d00 64px,#904900 66px,#8f4800 68px,#814100 70px,#703800 84px,#633200 121px,#5b2e00 206px,#693500 264px,#733a00 280px,#824100 293px,#a15100 304px,#ce6700 310px,#e07000 311px,#ff8000 312px,#ff9c00 313px,#ffa900 314px,#d86c00 315px,#9c4e00 316px,#753b00 317px,#3a1d00 318px,#0a0500 319px,#000 320px,#000 397px)"></i>
<i style="left:314.06px;width:8.43px;background:linear-gradient(#32ff00 0px,#15ff00 12px,#15ff00 43px,#1cff00 44px,#95ff00 53px,#ff0 62px,#ff9800 69px,#eb7600 70px,#b25a00 71px,#9b4e00 72px,#994d00 74px,#8b4600 77px,#753b00 90px,#673400 116px,#5d2f00 205px,#6b3600 264px,#753b00 280px,#844200 293px,#a35200 304px,#c76400 309px,#d16900 310px,#e87400 311px,#ff8a00 312px,#ffa500 313px,#ff9500 314px,#c26100 315px,#904800 316px,#743a00 317px,#110800 319px,#000 320px,#000 397px)"></i>
<i style="left:321.90px;width:8.43px;background:linear-gradient(#98ff00 0px,#18ff00 34px,#0f0 42px,#00ee18 54px,#02ff00 64px,#13ff00 68px,#2f0 69px,#f5ff00 78px,#ffec00 79px,#ff8c00 82px,#e47300 83px,#df7000 85px,#bc5e00 87px,#a35200 92px,#840 102px,#743a00 118px,#683400 158px,#643200 206px,#723900 262px,#7d3f00 279px,#8c4600 293px,#ab5600 304px,#d06800 309px,#de6f00 310px,#fc7f00 311px,#ffba00 313px,#ff8200 314px,#b35a00 315px,#894500 316px,#723900 317px,#633200 318px,#0d0600 320px,#000 321px,#000 397px)"></i>
<i style="left:329.73px;width:8.43px;background:linear-gradient(#ffeb00 0px,#ff0 18px,#f0ff00 20px,#86ff00 31px,#17ff00 49px,#06ff00 89px,#00f908 90px,#00dc32 92px,#00d739 93px,#00f909 95px,#1fff00 96px,#94ff00 97px,#fff900 98px,#ffaf00 99px,#ff8f00 100px,#ff8100 103px,#e87400 105px,#bf6000 111px,#9e4f00 119px,#864300 130px,#753b00 149px,#6a3500 201px,#7a3d00 260px,#854300 278px,#944a00 293px,#b25900 304px,#d06800 308px,#da6d00 309px,#ec7600 310px,#ff8d00 311px,#ffb200 312px,#fc0 313px,#ff8200 314px,#c56300 315px,#a55300 316px,#934a00 317px,#824100 319px,#512800 320px,#140a00 321px,#000 322px,#000 397px)"></i>
<i style="left:337.56px;width:8.43px;background:linear-gradient(#ff8700 0px,#ffc300 33px,#fffe00 53px,#f8ff00 54px,#80ff00 64px,#17ff00 80px,#06ff00 117px,#00fb06 118px,#00e426 120px,#00f410 121px,#32ff00 122px,#a7ff00 123px,#fff400 124px,#ffb900 126px,#ff9300 127px,#fe7f00 128px,#f07800 129px,#c66300 135px,#a35200 143px,#8a4500 154px,#793d00 173px,#723900 203px,#814100 259px,#8d4700 278px,#9d4f00 293px,#ba5d00 304px,#d86c00 308px,#e47200 309px,#fb7e00 310px,#ff9e00 311px,#ffc700 312px,#ffc400 313px,#ff8900 314px,#de6f00 315px,#c56300 316px,#b85c00 317px,#a85400 320px,#6d3700 321px,#1d0e00 322px,#000 323px,#000 397px)"></i>
<i style="left:345.39px;width:8.43px;background:linear-gradient(#6f3700 0px,#964b00 32px,#ff8200 56px,#ffe800 86px,#fffe00 92px,#efff00 94px,#69ff00 107px,#19ff00 114px,#00fe02 115px,#00ef17 116px,#05ff00 117px,#14ff00 118px,#06ff00 148px,#1fff00 149px,#72ff00 151px,#d3ff00 153px,#fffb00 154px,#ffab00 156px,#ff9700 157px,#ff8b00 158px,#f97d00 159px,#d96d00 163px,#b45a00 170px,#984c00 179px,#834200 193px,#7e3f00 213px,#840 257px,#954b00 277px,#a55300 293px,#c26100 304px,#e17100 308px,#ef7800 309px,#ff8a00 310px,#ffdc00 312px,#ffc000 313px,#ff9400 314px,#fa7d00 315px,#e77400 316px,#d86c00 318px,#d16900 321px,#8b4600 322px,#271400 323px,#000 324px,#000 397px)"></i>
<i style="left:353.22px;width:8.43px;background:linear-gradient(#281400 0px,#3d1e00 63px,#864300 88px,#fc7f00 105px,#ff8700 111px,#ffc300 124px,#fdff00 131px,#73ff00 139px,#14ff00 146px,#00f50e 147px,#00f80a 148px,#14ff00 149px,#06ff00 183px,#26ff00 184px,#91ff00 186px,#cbff00 187px,#fffe00 188px,#ffe600 190px,#ffd100 191px,#ffa400 192px,#fe8000 193px,#f17900 194px,#cf6800 199px,#ae5700 207px,#984c00 218px,#8e4700 236px,#924900 258px,#9e4f00 277px,#a95500 288px,#ad5700 293px,#c96500 304px,#ea7500 308px,#fc7f00 309px,#f90 310px,#fff200 312px,#ffc100 313px,#ff9d00 314px,#ff8a00 315px,#fe8000 316px,#f27900 318px,#ed7700 323px,#e07000 324px,#7f4000 325px,#160b00 326px,#000 327px,#000 397px)"></i>
<i style="left:361.06px;width:8.43px;background:linear-gradient(#190d00 0px,#251300 89px,#542a00 125px,#924900 148px,#ba5d00 152px,#fb7e00 158px,#ff8b00 160px,#ffc500 168px,#fffb00 173px,#efff00 174px,#85ff00 178px,#1cff00 183px,#19ff00 184px,#87ff00 198px,#8aff00 204px,#8aff00 216px,#96ff00 217px,#f8ff00 222px,#fffa00 223px,#ff9400 235px,#ff8c00 241px,#ff8700 253px,#ff8700 297px,#ffae00 307px,#ffce00 309px,#fff400 311px,#f4ff00 312px,#fffa00 313px,#ffb500 317px,#ffa900 319px,#f80 328px,#e27100 329px,#683400 331px,#190d00 332px,#000 333px,#000 397px)"></i>
<i style="left:368.89px;width:8.43px;background:linear-gradient(#0f0700 0px,#301800 140px,#371b00 152px,#5b2e00 180px,#a15100 196px,#ff8100 205px,#fb0 212px,#fffa00 217px,#dcff00 218px,#37ff00 221px,#23ff00 222px,#23ff00 223px,#30ff00 224px,#95ff00 229px,#ff0 235px,#fff500 260px,#ffbd00 273px,#ffaf00 287px,#ffb100 304px,#ffe700 309px,#fcff00 310px,#9aff00 312px,#af0 313px,#dbff00 314px,#fff600 315px,#ffe100 316px,#ffb400 319px,#ffab00 321px,#ff9c00 327px,#f57b00 328px,#180c00 331px,#000 332px,#000 397px)"></i>
<i style="left:376.72px;width:8.43px;background:linear-gradient(#0f0700 0px,#1c0e00 151px,#402000 201px,#673400 229px,#af5800 247px,#cb6600 249px,#f97d00 252px,#ff8d00 253px,#fff000 258px,#f0ff00 259px,#39ff00 262px,#3dff00 263px,#8bff00 265px,#ff0 270px,#fff300 286px,#ffd800 297px,#fdff00 305px,#d6ff00 309px,#b6ff00 310px,#5eff00 312px,#76ff00 313px,#ecff00 315px,#fffe00 316px,#ffec00 328px,#fb0 335px,#ff9500 338px,#d26900 339px,#6b3600 340px,#391d00 341px,#080400 343px,#000 344px,#000 397px)"></i>
<i style="left:384.55px;width:8.43px;background:linear-gradient(#0c0600 0px,#211100 156px,#472400 248px,#814100 272px,#ff8000 285px,#fb0 291px,#ffd000 292px,#ffea00 293px,#f6ff00 294px,#80ff00 297px,#8dff00 298px,#f8ff00 303px,#ff0 304px,#ff0 308px,#e8ff00 309px,#80ff00 312px,#afff00 313px,#eaff00 314px,#ffe400 315px,#ffc700 316px,#f90 318px,#ff9100 319px,#ff9100 353px,#ffb600 357px,#ffc000 358px,#ffb500 359px,#ffa100 360px,#db6e00 361px,#6c3600 362px,#412100 363px,#040200 368px,#000 370px,#000 397px)"></i>
<i style="left:392.38px;width:10.11px;background:linear-gradient(#0c0600 0px,#1c0e00 156px,#3c1e00 248px,#723900 273px,#e07000 296px,#ff8000 302px,#ff9a00 309px,#ffd900 310px,#afff00 311px,#26ff00 312px,#78ff00 313px,#eaff00 314px,#ffcb00 315px,#ffbe00 316px,#ff8000 325px,#e07100 328px,#552b00 373px,#000 391px,#000 397px)"></i>
<i style="left:401.90px;width:11.80px;background:linear-gradient(#0f0700 0px,#190c00 117px,#2c1600 193px,#3d1f00 218px,#723900 237px,#9f5000 266px,#bd5f00 269px,#ff8000 275px,#ff8700 282px,#ff9e00 283px,#ffe200 285px,#fbff00 286px,#76ff00 291px,#1f0 294px,#00f60d 295px,#00d141 297px,#00d43d 298px,#00fd03 301px,#68ff00 305px,#9eff00 307px,#a7ff00 308px,#a7ff00 315px,#a2ff00 316px,#17ff00 318px,#00de30 319px,#00ac77 320px,#30ff00 321px,#ffc500 322px,#cb6600 323px,#b65c00 324px,#a85400 325px,#623100 342px,#271400 370px,#000 385px,#000 397px)"></i>
<i style="left:413.09px;width:11.80px;background:linear-gradient(#0f0700 0px,#241200 123px,#351a00 175px,#5f3000 200px,#804000 212px,#b65b00 223px,#fc7f00 232px,#ff9b00 234px,#fcff00 240px,#2dff00 243px,#00f410 244px,#00b16f 246px,#098e8e 247px,#3a6363 248px,#606060 249px,#336a6a 250px,#0c8c8c 251px,#019595 252px,#019595 258px,#128686 259px,#5d5d5d 260px,#f5f5f5 261px,#8ba8ff 262px,#000eff 263px,#0036ff 264px,#c2d1ff 265px,#f2f2f2 266px,#7c7c7c 267px,#267575 268px,#00b767 269px,#07ff00 270px,#8dff00 271px,#fff900 272px,#ff8200 275px,#e07100 286px,#840 307px,#643200 318px,#361b00 345px,#0f0800 375px,#000 386px,#000 397px)"></i>
<i style="left:424.29px;width:11.80px;background:linear-gradient(#120900 0px,#211000 72px,#512900 137px,#723900 156px,#824100 161px,#9b4e00 162px,#e37200 163px,#ff9800 164px,#ffe500 166px,#f0ff00 167px,#32ff00 171px,#15ff00 208px,#00fd03 209px,#00c651 211px,#009893 216px,#1b7f7f 217px,#435c5c 218px,#a8a8a8 219px,#fff 220px,#1a53ff 221px,#00f 222px,#00f 223px,#0020ff 224px,#c1d0ff 225px,#ebebeb 226px,#7c7c7c 227px,#118787 228px,#00e02d 229px,#87ff00 230px,#fe0 231px,#ffa100 233px,#ff8700 234px,#fc7f00 246px,#a95500 276px,#4e2700 323px,#190d00 359px,#000 380px,#000 397px)"></i>
<i style="left:435.49px;width:11.80px;background:linear-gradient(#2c1600 0px,#3e1f00 65px,#562b00 84px,#582c00 85px,#fb7e00 86px,#ffbe00 89px,#fffd00 92px,#86ff00 99px,#78ff00 100px,#4fff00 106px,#4fff00 112px,#78ff00 118px,#89ff00 119px,#e7ff00 123px,#f0ff00 124px,#f0ff00 133px,#e8ff00 134px,#7eff00 142px,#14ff00 155px,#06ff00 167px,#00fb06 168px,#00c355 173px,#009d8d 176px,#009696 178px,#178282 179px,#4c5454 180px,#c4c4c4 181px,#fff 182px,#94afff 183px,#003cff 184px,#fff 185px,#838383 186px,#2f6d6d 187px,#009d8c 188px,#00f015 189px,#6eff00 190px,#f5ff00 191px,#ffd300 192px,#ffa300 193px,#ff8700 194px,#fd7f00 207px,#e27100 218px,#934a00 235px,#630 284px,#482400 323px,#231200 353px,#000 375px,#000 397px)"></i>
<i style="left:446.68px;width:11.80px;background:linear-gradient(#763b00 0px,#7c3e00 4px,#844200 5px,#ff8000 6px,#f80 12px,#ffc700 18px,#fffb00 24px,#ff0 26px,#ff0 30px,#fbff00 31px,#a8ff00 37px,#a7ff00 49px,#afff00 50px,#ff0 56px,#ff0 77px,#a1ff00 84px,#97ff00 85px,#59ff00 98px,#31ff00 108px,#15ff00 129px,#0eff00 130px,#00fc04 131px,#00c356 137px,#00a284 141px,#009794 145px,#029494 146px,#425c5c 147px,#969696 148px,#969696 149px,#3e6060 150px,#019595 151px,#00a680 153px,#00ce45 154px,#23ff00 155px,#ceff00 156px,#ffd600 157px,#ff9d00 158px,#ff8700 159px,#fc7f00 162px,#bd5f00 195px,#864300 235px,#572c00 284px,#341a00 337px,#060300 365px,#000 380px,#000 397px)"></i>
<i style="left:457.88px;width:11.80px;background:linear-gradient(#ffc300 0px,#ff0 12px,#ff0 24px,#f8ff00 25px,#8dff00 33px,#5eff00 50px,#41ff00 112px,#00f40f 113px,#00c84f 114px,#00a67f 115px,#108888 116px,#108888 118px,#009b8e 119px,#00e02d 121px,#0f0 122px,#0f0 124px,#3f0 125px,#df0 126px,#ffd300 127px,#ff9d00 128px,#ff8700 129px,#fd7f00 131px,#f57b00 132px,#b65b00 166px,#7f4000 207px,#522900 257px,#2f1800 321px,#231200 337px,#030100 363px,#000 397px)"></i>
<i style="left:469.07px;width:11.80px;background:linear-gradient(#6cff00 0px,#6bff00 49px,#4bff00 76px,#32ff00 87px,#10ff00 88px,#00f50f 89px,#00dd30 90px,#00c257 91px,#00c750 92px,#00e229 93px,#00f60d 94px,#0aff00 95px,#27ff00 96px,#64ff00 99px,#a6ff00 100px,#fffb00 101px,#ff9b00 103px,#ff8700 104px,#ff8000 105px,#ef7800 106px,#e67300 107px,#a85400 143px,#733a00 186px,#492500 239px,#281400 308px,#1c0e00 332px,#020100 360px,#000 397px)"></i>
<i style="left:480.27px;width:11.80px;background:linear-gradient(#91ff00 0px,#8fff00 56px,#15ff00 67px,#15ff00 74px,#25ff00 75px,#7dff00 78px,#c8ff00 80px,#efff00 81px,#ffd900 82px,#ff9800 83px,#fa7d00 84px,#f87c00 85px,#f17900 86px,#d86c00 88px,#9c4e00 125px,#6a3500 170px,#412100 226px,#210 300px,#170c00 328px,#010000 357px,#000 397px)"></i>
<i style="left:491.47px;width:11.80px;background:linear-gradient(#c4ff00 0px,#a7ff00 43px,#a0ff00 44px,#1aff00 54px,#15ff00 55px,#15ff00 58px,#2f0 59px,#80ff00 63px,#bdff00 65px,#feff00 67px,#ff8c00 69px,#eb7600 70px,#e47200 72px,#c46300 74px,#964b00 104px,#643200 150px,#3d1f00 207px,#1f1000 284px,#120900 325px,#000 354px,#000 397px)"></i>
<i style="left:502.66px;width:11.80px;background:linear-gradient(#fff500 0px,#fdff00 9px,#c4ff00 37px,#9bff00 44px,#81ff00 45px,#2fff00 47px,#20ff00 48px,#7cff00 51px,#e8ff00 55px,#fff800 56px,#ffab00 58px,#ff8a00 59px,#e17100 60px,#ce6700 61px,#cd6700 62px,#c46200 63px,#b55b00 64px,#ac5600 65px,#783c00 107px,#4c2600 159px,#2a1500 227px,#0e0700 322px,#000 352px,#000 397px)"></i>
<i style="left:513.86px;width:11.80px;background:linear-gradient(#ffdc00 0px,#ff0 37px,#d6ff00 43px,#beff00 44px,#50ff00 47px,#c2ff00 50px,#feff00 52px,#ffa800 55px,#ff8700 56px,#d66b00 57px,#bf6000 58px,#be6000 59px,#a55300 61px,#9e4f00 62px,#6b3600 107px,#422100 163px,#210 237px,#0e0700 317px,#000 348px,#000 397px)"></i>
<i style="left:525.05px;width:11.80px;background:linear-gradient(#ffc800 0px,#ffe300 38px,#fffd00 45px,#e6ff00 46px,#62ff00 49px,#68ff00 50px,#ecff00 53px,#fff100 54px,#ffa600 57px,#ff8400 58px,#ca6500 59px,#b15900 60px,#ad5700 62px,#924900 64px,#693500 100px,#412000 156px,#210 230px,#0d0700 313px,#000 344px,#000 397px)"></i>
<i style="left:536.25px;width:11.80px;background:linear-gradient(#ff9100 0px,#ff9600 37px,#ffa400 48px,#ffb800 54px,#ffd300 58px,#fff100 61px,#ff0 62px,#d1ff00 64px,#ffe600 65px,#de7000 66px,#834200 67px,#552b00 116px,#311900 179px,#170c00 266px,#0c0600 310px,#000 340px,#000 397px)"></i>
<i style="left:547.45px;width:11.80px;background:linear-gradient(#ff8e00 0px,#ff9300 45px,#ffa000 58px,#ffb800 66px,#ffd500 71px,#fff900 75px,#f6ff00 76px,#e4ff00 77px,#ffd400 78px,#c66300 79px,#6d3700 80px,#420 135px,#241200 207px,#0b0600 306px,#000 337px,#000 397px)"></i>
<i style="left:558.64px;width:11.80px;background:linear-gradient(#ff8b00 0px,#ff9200 55px,#ffa300 76px,#fb0 86px,#ffdf00 94px,#ffeb00 96px,#ffae00 97px,#a35200 98px,#572c00 99px,#331a00 161px,#180c00 247px,#0b0600 303px,#000 334px,#000 397px)"></i>
<i style="left:569.84px;width:11.80px;background:linear-gradient(#ff8700 0px,#ff8e00 90px,#ff9500 97px,#ff9b00 100px,#ff9400 101px,#ff9400 107px,#ffa800 116px,#ffb700 120px,#ff8500 121px,#854300 122px,#492400 123px,#281400 192px,#0c0600 300px,#000 331px,#000 397px)"></i>
<i style="left:581.03px;width:11.80px;background:linear-gradient(#ff8700 0px,#ff8500 74px,#ff8200 96px,#ff8900 100px,#fd7f00 101px,#ea7600 106px,#df7000 123px,#e67400 134px,#fb7e00 142px,#ff8300 144px,#ff9400 149px,#dc6f00 150px,#6d3700 151px,#3a1d00 152px,#1d0f00 231px,#0d0700 296px,#000 327px,#000 397px)"></i>
<i style="left:592.23px;width:11.80px;background:linear-gradient(#ff8700 0px,#ff8400 73px,#fe7f00 95px,#ff8700 99px,#f77c00 100px,#e07000 105px,#9f5000 144px,#974c00 157px,#a15100 166px,#ba5d00 174px,#dc6e00 180px,#f47a00 183px,#be5f00 184px,#5d2f00 185px,#311900 186px,#170c00 273px,#0c0600 299px,#000 326px,#000 397px)"></i>
<i style="left:603.43px;width:11.80px;background:linear-gradient(#ff8700 0px,#ff8400 72px,#fd7f00 92px,#ff8700 96px,#fa7d00 97px,#e07000 103px,#840 155px,#783c00 176px,#743a00 195px,#814100 206px,#964b00 213px,#b35a00 218px,#cd6700 221px,#a15100 222px,#502800 223px,#2c1600 224px,#150a00 291px,#000 321px,#000 397px)"></i>
<i style="left:614.62px;width:11.80px;background:linear-gradient(#ff8700 0px,#ff8400 70px,#fd7f00 89px,#ff8900 94px,#fa7e00 95px,#e27200 100px,#874400 156px,#773b00 187px,#6c3600 237px,#763b00 248px,#894500 254px,#a50 259px,#854300 260px,#422100 261px,#241200 262px,#180c00 291px,#010100 319px,#000 397px)"></i>
<i style="left:625.82px;width:11.80px;background:linear-gradient(#ff8700 0px,#ff8400 69px,#fe8000 86px,#ff8b00 91px,#fc7e00 92px,#e47300 97px,#964b00 149px,#854300 171px,#643200 271px,#6b3600 284px,#7c3e00 291px,#8a4500 294px,#693400 295px,#2f1700 296px,#160b00 297px,#010000 322px,#000 397px)"></i>
<i style="left:637.01px;width:11.80px;background:linear-gradient(#ff8700 0px,#ff8400 68px,#ff8000 83px,#ff8c00 88px,#fd7f00 89px,#e67300 94px,#ab5600 137px,#904800 164px,#6b3600 259px,#5a2d00 310px,#653300 316px,#6d3700 318px,#4e2700 319px,#180c00 320px,#020100 321px,#000 397px)"></i>
<i style="left:648.21px;width:11.80px;background:linear-gradient(#ff8600 0px,#ff8300 68px,#ff8100 80px,#ff8d00 85px,#fe8000 86px,#ea7600 90px,#c76400 116px,#9b4e00 160px,#814100 216px,#5d2f00 302px,#5e2f00 309px,#793d00 317px,#753b00 320px,#643200 322px,#231100 327px,#0b0600 330px,#010000 333px,#000 397px)"></i>
<i style="left:659.41px;width:11.80px;background:linear-gradient(#ff8500 0px,#ff8200 68px,#ff8300 78px,#ff8e00 82px,#ff8100 83px,#e97500 88px,#c86500 116px,#9f5000 167px,#773c00 255px,#6c3600 282px,#773c00 287px,#874400 292px,#814100 295px,#4e2700 303px,#3e1f00 309px,#2d1700 324px,#040200 334px,#000 342px,#000 397px)"></i>
<i style="left:670.60px;width:11.80px;background:linear-gradient(#ff8400 0px,#ff8200 69px,#ff8300 75px,#ff8e00 79px,#ff8200 80px,#f77c00 82px,#ea7500 85px,#c60 113px,#984c00 193px,#804000 245px,#8d4700 250px,#9f5000 255px,#9a4d00 258px,#6c3600 266px,#5c2e00 273px,#251300 327px,#020100 337px,#000 397px)"></i>
<i style="left:681.80px;width:11.80px;background:linear-gradient(#ff8300 0px,#ff8200 53px,#ff8100 72px,#ff8c00 76px,#ff8000 77px,#e77400 82px,#c96500 111px,#a45200 184px,#984c00 205px,#a05000 210px,#b45b00 216px,#b05800 219px,#814100 227px,#733a00 233px,#1d0f00 330px,#010100 340px,#000 397px)"></i>
<i style="left:692.99px;width:11.80px;background:linear-gradient(#ff8300 0px,#ff8200 50px,#fd7f00 69px,#ff8a00 73px,#fe7f00 74px,#e57300 79px,#c96500 105px,#be5f00 143px,#b15900 168px,#7e3f00 197px,#381c00 290px,#160b00 333px,#010100 342px,#000 397px)"></i>
<i style="left:704.19px;width:11.80px;background:linear-gradient(#ff8100 0px,#ff8000 49px,#f87c00 66px,#ff8500 70px,#f80 71px,#fa7d00 72px,#e17100 77px,#c66300 102px,#b85d00 137px,#8a4500 161px,#100800 336px,#010000 345px,#000 397px)"></i>
<i style="left:715.39px;width:11.80px;background:linear-gradient(#fd7f00 0px,#fd7f00 47px,#f37a00 64px,#ff8200 68px,#ff8500 69px,#f47a00 70px,#da6e00 75px,#bc5e00 104px,#864300 150px,#0d0600 338px,#000 347px,#000 397px)"></i>
<i style="left:726.58px;width:11.80px;background:linear-gradient(#f97d00 0px,#fb7e00 46px,#e70 61px,#f57b00 64px,#ff8000 66px,#ff8100 67px,#ed7700 68px,#d76c00 72px,#b85c00 97px,#7a3d00 152px,#331a00 269px,#0a0500 340px,#000 350px,#000 397px)"></i>
<i style="left:737.78px;width:11.80px;background:linear-gradient(#f47a00 0px,#f67b00 46px,#ea7600 59px,#fc7e00 64px,#e77400 65px,#cf6800 69px,#703800 152px,#3b1d00 242px,#0b0500 338px,#000 349px,#000 397px)"></i>
<i style="left:748.97px;width:11.80px;background:linear-gradient(#ed7700 0px,#f07800 46px,#e67400 56px,#f57b00 60px,#e57300 61px,#c76400 66px,#b95d00 75px,#653300 153px,#422100 215px,#0a0500 337px,#000 348px,#000 397px)"></i>
<i style="left:760.17px;width:11.80px;background:linear-gradient(#f07800 0px,#f57b00 45px,#ea7500 53px,#f27900 56px,#f97d00 58px,#e67300 59px,#c66300 64px,#b95d00 70px,#6b3500 142px,#420 205px,#0a0500 336px,#000 346px,#000 397px)"></i>
<i style="left:771.37px;width:11.80px;background:linear-gradient(#f47a00 0px,#fa7e00 45px,#f17900 51px,#ff8000 56px,#ea7600 57px,#cd6700 61px,#b85c00 68px,#7e3f00 118px,#5d2f00 157px,#381c00 229px,#0c0600 333px,#000 344px,#000 397px)"></i>
<i style="left:782.56px;width:11.80px;background:linear-gradient(#fb7e00 0px,#ff8200 46px,#ff8200 50px,#ff8b00 54px,#f97d00 55px,#db6e00 59px,#c26100 68px,#814100 123px,#623100 156px,#412100 214px,#0d0600 331px,#000 342px,#000 397px)"></i>
<i style="left:793.76px;width:11.80px;background:linear-gradient(#ff8200 0px,#ff8c00 48px,#ff9500 51px,#ff8900 52px,#ff8000 54px,#e97500 57px,#cb6600 69px,#7b3e00 134px,#653300 158px,#462300 208px,#0e0700 329px,#000 339px,#000 397px)"></i>
<i style="left:804.95px;width:11.80px;background:linear-gradient(#ff9d00 0px,#ff8c00 5px,#ff8c00 25px,#ff9500 45px,#ffa000 49px,#ff9500 50px,#ff8000 54px,#f07800 58px,#d66b00 70px,#914900 126px,#713900 159px,#4b2600 216px,#110900 326px,#000 336px,#000 397px)"></i>
<i style="left:816.15px;width:11.80px;background:linear-gradient(#ffa800 0px,#ffb400 3px,#ffad00 6px,#ff9600 11px,#ff9100 18px,#ff9b00 43px,#fa0 49px,#ff9d00 50px,#ff8400 55px,#f77c00 60px,#e27100 71px,#a65300 120px,#783c00 169px,#3a1d00 259px,#140a00 324px,#010000 334px,#000 397px)"></i>
<i style="left:827.35px;width:11.80px;background:linear-gradient(#ff9300 0px,#ff9d00 4px,#ffb800 9px,#ffba00 12px,#ff9d00 18px,#ff9700 24px,#ffa000 43px,#ffb000 48px,#ffa400 49px,#ff8a00 54px,#fc7e00 61px,#e87500 71px,#af5800 119px,#793d00 178px,#3d1f00 261px,#170c00 322px,#010000 332px,#000 397px)"></i>
<i style="left:838.54px;width:11.80px;background:linear-gradient(#ff9300 0px,#ff9800 11px,#ffa600 15px,#ffbd00 19px,#ffbd00 22px,#ffa000 28px,#ff9c00 34px,#ffa400 43px,#ffb600 48px,#ffa800 49px,#ff8f00 53px,#fe7f00 61px,#ea7600 71px,#ae5700 123px,#814100 173px,#3f2000 262px,#190d00 320px,#010000 330px,#000 397px)"></i>
<i style="left:849.74px;width:11.80px;background:linear-gradient(#ff9400 0px,#ff9c00 20px,#ffab00 24px,#ffc100 28px,#ffc200 31px,#ffa600 37px,#ffa500 42px,#ffbd00 47px,#ffb100 48px,#ff9000 53px,#fd7f00 62px,#ec7600 71px,#ac5600 128px,#864300 172px,#402000 265px,#1d0e00 318px,#020100 328px,#000 397px)"></i>
<i style="left:860.93px;width:11.80px;background:linear-gradient(#ff9500 0px,#ffa000 27px,#ffaf00 31px,#ffc600 35px,#ffc800 38px,#ffb800 42px,#fb0 44px,#ffc600 47px,#ffb700 48px,#ff9600 52px,#ff8700 58px,#fd7f00 63px,#e70 71px,#a45200 140px,#412100 267px,#1e0f00 317px,#010100 327px,#000 397px)"></i>
<i style="left:872.13px;width:11.80px;background:linear-gradient(#ff9600 0px,#ffa200 32px,#ffae00 36px,#ffe000 45px,#ffdf00 47px,#ffca00 48px,#ffa200 51px,#ff9400 53px,#fc7e00 64px,#ee7800 72px,#9d4f00 150px,#630 222px,#371b00 286px,#1f0f00 316px,#030100 325px,#000 397px)"></i>
<i style="left:883.33px;width:11.80px;background:linear-gradient(#ff9500 0px,#ffa300 36px,#ffb000 41px,#ffc500 44px,#ffe100 47px,#ffcd00 49px,#ffa200 52px,#ff9300 54px,#fe8000 63px,#ef7800 71px,#9b4e00 152px,#6a3500 216px,#402000 269px,#201000 314px,#020100 324px,#000 397px)"></i>
<i style="left:894.52px;width:11.80px;background:linear-gradient(#ff9300 0px,#ffa300 41px,#ffab00 44px,#fb0 46px,#ffd100 48px,#ffd500 49px,#ffc400 50px,#ff9e00 53px,#ff8f00 55px,#fe7f00 63px,#ef7800 71px,#994d00 154px,#6c3600 212px,#422100 263px,#1f1000 313px,#010100 323px,#000 397px)"></i>
<i style="left:905.72px;width:11.80px;background:linear-gradient(#ff9200 0px,#ffa200 43px,#ffa900 46px,#ffba00 48px,#ffcd00 50px,#ffad00 53px,#ff9500 55px,#ff8700 58px,#fd7f00 63px,#ee7800 72px,#984c00 154px,#6e3700 208px,#422100 260px,#1e0f00 312px,#010100 322px,#000 397px)"></i>
<i style="left:916.91px;width:11.80px;background:linear-gradient(#ff9100 0px,#ffa100 46px,#ffa900 48px,#ffc700 51px,#ffb900 53px,#ff9400 56px,#ff8700 58px,#fc7e00 63px,#ec7700 73px,#974c00 154px,#6f3800 206px,#412100 259px,#1e0f00 311px,#010100 321px,#000 397px)"></i>
<i style="left:928.11px;width:11.80px;background:linear-gradient(#ff8f00 0px,#ff9d00 47px,#ffa600 49px,#ffc300 52px,#ffb400 54px,#ff9100 57px,#ff8400 59px,#f57b00 65px,#974c00 152px,#6f3800 204px,#412000 257px,#1d0f00 310px,#010100 320px,#000 397px)"></i>
<i style="left:939.31px;width:11.80px;background:linear-gradient(#ff8e00 0px,#ff9a00 48px,#ffa200 50px,#ffbf00 53px,#ffb000 55px,#ff8d00 58px,#ff8100 60px,#ec7600 70px,#a55300 137px,#904800 161px,#6d3700 205px,#3f2000 257px,#1c0e00 309px,#010100 319px,#000 397px)"></i>
<i style="left:950.50px;width:7.60px;background:linear-gradient(#ff8d00 0px,#ff9600 47px,#ff9800 50px,#ffa700 52px,#ffba00 54px,#ffac00 56px,#ff8a00 59px,#fc7f00 61px,#eb7600 69px,#b55b00 123px,#944a00 154px,#6f3800 202px,#3e1f00 256px,#1c0e00 308px,#010100 318px,#000 397px)"></i>
<i style="left:173.39px;width:7.83px;top:0.5px;height:305.0px;background:repeating-linear-gradient(#0000 0,#0001 2.05px,#0000 4.10px)"></i>
<i style="left:181.22px;width:7.83px;top:0.5px;height:305.0px;background:repeating-linear-gradient(#0000 0,#0001 1.35px,#0000 2.70px)"></i>
<i style="left:189.05px;width:7.83px;top:0.5px;height:305.0px;background:repeating-linear-gradient(#0000 0,#0001 1.87px,#0000 3.73px)"></i>
<i style="left:196.88px;width:7.83px;top:0.5px;height:305.0px;background:repeating-linear-gradient(#0000 0,#0001 1.81px,#0000 3.61px)"></i>
<i style="left:204.72px;width:7.83px;top:0.5px;height:305.0px;background:repeating-linear-gradient(#0000 0,#0001 1.38px,#0000 2.76px)"></i>
<i style="left:212.55px;width:7.83px;top:0.5px;height:305.0px;background:repeating-linear-gradient(#0000 0,#0001 2.07px,#0000 4.13px)"></i>
<i style="left:220.38px;width:7.83px;top:0.5px;height:305.0px;background:repeating-linear-gradient(#0000 0,#0001 1.48px,#0000 2.96px)"></i>
<i style="left:228.21px;width:7.83px;top:0.5px;height:305.0px;background:repeating-linear-gradient(#0000 0,#0001 1.66px,#0000 3.32px)"></i>
<i style="left:236.04px;width:7.83px;top:0.5px;height:305.0px;background:repeating-linear-gradient(#0000 0,#0001 1.98px,#0000 3.96px)"></i>
<i style="left:243.88px;width:7.83px;top:0.5px;height:305.0px;background:repeating-linear-gradient(#0000 0,#0001 1.33px,#0000 2.65px)"></i>
<i style="left:251.71px;width:7.83px;top:0.5px;height:305.0px;background:repeating-linear-gradient(#0000 0,#0001 1.97px,#0000 3.94px)"></i>
<i style="left:259.54px;width:7.83px;top:0.5px;height:305.0px;background:repeating-linear-gradient(#0000 0,#0001 1.68px,#0000 3.36px)"></i>
<i style="left:267.37px;width:7.83px;top:0.5px;height:305.0px;background:repeating-linear-gradient(#0000 0,#0001 1.46px,#0000 2.93px)"></i>
<i style="left:275.20px;width:7.83px;top:0.5px;height:305.0px;background:repeating-linear-gradient(#0000 0,#0001 2.07px,#0000 4.14px)"></i>
<i style="left:283.04px;width:7.83px;top:0.5px;height:305.0px;background:repeating-linear-gradient(#0000 0,#0001 1.39px,#0000 2.78px)"></i>
<i style="left:290.87px;width:7.83px;top:120.5px;height:190.0px;background:repeating-linear-gradient(#0000 0,#0001 1.89px,#0000 3.78px)"></i>
<i style="left:298.70px;width:7.83px;top:120.5px;height:190.0px;background:repeating-linear-gradient(#0000 0,#0001 1.99px,#0000 3.99px)"></i>
<i style="left:306.53px;width:7.83px;top:120.5px;height:190.0px;background:repeating-linear-gradient(#0000 0,#0001 1.42px,#0000 2.85px)"></i>
<i style="left:314.36px;width:7.83px;top:120.5px;height:190.0px;background:repeating-linear-gradient(#0000 0,#0001 2.16px,#0000 4.32px)"></i>
<i style="left:322.20px;width:7.83px;top:120.5px;height:190.0px;background:repeating-linear-gradient(#0000 0,#0001 1.65px,#0000 3.29px)"></i>
<i style="left:330.03px;width:7.83px;top:120.5px;height:190.0px;background:repeating-linear-gradient(#0000 0,#0001 1.67px,#0000 3.33px)"></i>
<i style="left:337.86px;width:7.83px;top:120.5px;height:190.0px;background:repeating-linear-gradient(#0000 0,#0001 2.15px,#0000 4.30px)"></i>
<i style="left:345.69px;width:7.83px;top:120.5px;height:190.0px;background:repeating-linear-gradient(#0000 0,#0001 1.42px,#0000 2.83px)"></i>
<i style="left:480.57px;width:11.20px;top:0.5px;height:55.0px;background:repeating-linear-gradient(#0000 0,#0001 1.93px,#0000 3.87px)"></i>
<i style="left:491.77px;width:11.20px;top:0.5px;height:55.0px;background:repeating-linear-gradient(#0000 0,#0001 1.95px,#0000 3.91px)"></i>
<i style="left:502.96px;width:11.20px;top:0.5px;height:55.0px;background:repeating-linear-gradient(#0000 0,#0001 1.44px,#0000 2.88px)"></i>
<i style="left:514.16px;width:11.20px;top:0.5px;height:55.0px;background:repeating-linear-gradient(#0000 0,#0001 2.18px,#0000 4.35px)"></i>
<i style="left:525.35px;width:11.20px;top:0.5px;height:55.0px;background:repeating-linear-gradient(#0000 0,#0001 1.61px,#0000 3.21px)"></i>
<i style="left:536.55px;width:11.20px;top:0.5px;height:55.0px;background:repeating-linear-gradient(#0000 0,#0001 1.71px,#0000 3.42px)"></i>
<i style="left:547.75px;width:11.20px;top:0.5px;height:150.0px;background:repeating-linear-gradient(#0000 0,#0002 2.25px,#0000 4.49px)"></i>
<i style="left:558.94px;width:11.20px;top:0.5px;height:150.0px;background:repeating-linear-gradient(#0000 0,#0002 1.49px,#0000 2.97px)"></i>
<i style="left:570.14px;width:11.20px;top:0.5px;height:150.0px;background:repeating-linear-gradient(#0000 0,#0002 2.16px,#0000 4.33px)"></i>
<i style="left:581.33px;width:11.20px;top:0.5px;height:150.0px;background:repeating-linear-gradient(#0000 0,#0002 1.92px,#0000 3.85px)"></i>
<i style="left:592.53px;width:11.20px;top:0.5px;height:330.0px;background:repeating-linear-gradient(#0000 0,#0001 1.77px,#0000 3.54px)"></i>
<i style="left:603.73px;width:11.20px;top:0.5px;height:330.0px;background:repeating-linear-gradient(#0000 0,#0001 2.56px,#0000 5.12px)"></i>
<i style="left:614.92px;width:11.20px;top:0.5px;height:330.0px;background:repeating-linear-gradient(#0000 0,#0001 1.75px,#0000 3.50px)"></i>
<i style="left:626.12px;width:11.20px;top:0.5px;height:330.0px;background:repeating-linear-gradient(#0000 0,#0001 2.15px,#0000 4.30px)"></i>
<i style="left:637.31px;width:11.20px;top:0.5px;height:330.0px;background:repeating-linear-gradient(#0000 0,#0001 2.37px,#0000 4.74px)"></i>
<i style="left:648.51px;width:11.20px;top:0.5px;height:330.0px;background:repeating-linear-gradient(#0000 0,#0001 1.65px,#0000 3.29px)"></i>
<i style="left:659.71px;width:11.20px;top:0.5px;height:330.0px;background:repeating-linear-gradient(#0000 0,#0001 2.50px,#0000 4.99px)"></i>
<i style="left:670.90px;width:11.20px;top:0.5px;height:330.0px;background:repeating-linear-gradient(#0000 0,#0001 1.97px,#0000 3.94px)"></i>
<i style="left:682.10px;width:11.20px;top:0.5px;height:330.0px;background:repeating-linear-gradient(#0000 0,#0001 1.90px,#0000 3.79px)"></i>
<i style="left:693.29px;width:11.20px;top:0.5px;height:330.0px;background:repeating-linear-gradient(#0000 0,#0001 2.53px,#0000 5.06px)"></i>
<i style="left:704.49px;width:11.20px;top:0.5px;height:345.0px;background:repeating-linear-gradient(#0000 0,#0001 1.83px,#0000 3.66px)"></i>
<i style="left:715.69px;width:11.20px;top:0.5px;height:345.0px;background:repeating-linear-gradient(#0000 0,#0001 2.52px,#0000 5.05px)"></i>
<i style="left:726.88px;width:11.20px;top:0.5px;height:345.0px;background:repeating-linear-gradient(#0000 0,#0001 2.44px,#0000 4.89px)"></i>
<i style="left:738.08px;width:11.20px;top:0.5px;height:345.0px;background:repeating-linear-gradient(#0000 0,#0001 1.87px,#0000 3.73px)"></i>
<i style="left:749.27px;width:11.20px;top:0.5px;height:345.0px;background:repeating-linear-gradient(#0000 0,#0001 2.80px,#0000 5.59px)"></i>
<i style="left:760.47px;width:11.20px;top:0.5px;height:345.0px;background:repeating-linear-gradient(#0000 0,#0001 2.00px,#0000 4.01px)"></i>
<i style="left:771.67px;width:11.20px;top:0.5px;height:345.0px;background:repeating-linear-gradient(#0000 0,#0001 2.24px,#0000 4.48px)"></i>
<i style="left:782.86px;width:11.20px;top:0.5px;height:345.0px;background:repeating-linear-gradient(#0000 0,#0001 2.68px,#0000 5.37px)"></i>
<i style="left:794.06px;width:11.20px;top:0.5px;height:340.0px;background:repeating-linear-gradient(#0000 0,#0002 1.56px,#0000 3.12px)"></i>
<i style="left:805.25px;width:11.20px;top:0.5px;height:340.0px;background:repeating-linear-gradient(#0000 0,#0002 2.32px,#0000 4.63px)"></i>
<i style="left:816.45px;width:11.20px;top:0.5px;height:340.0px;background:repeating-linear-gradient(#0000 0,#0002 1.98px,#0000 3.95px)"></i>
<i style="left:827.65px;width:11.20px;top:0.5px;height:320.0px;background:repeating-linear-gradient(#0000 0,#0001 2.15px,#0000 4.30px)"></i>
<i style="left:838.84px;width:11.20px;top:0.5px;height:320.0px;background:repeating-linear-gradient(#0000 0,#0001 3.04px,#0000 6.09px)"></i>
<i style="left:850.04px;width:11.20px;top:0.5px;height:320.0px;background:repeating-linear-gradient(#0000 0,#0001 2.05px,#0000 4.09px)"></i>
<i style="left:861.23px;width:11.20px;top:0.5px;height:320.0px;background:repeating-linear-gradient(#0000 0,#0001 2.62px,#0000 5.25px)"></i>
<i style="left:872.43px;width:11.20px;top:0.5px;height:320.0px;background:repeating-linear-gradient(#0000 0,#0001 2.77px,#0000 5.54px)"></i>
<i style="left:883.63px;width:11.20px;top:0.5px;height:320.0px;background:repeating-linear-gradient(#0000 0,#0001 1.98px,#0000 3.95px)"></i>
<i style="left:894.82px;width:11.20px;top:0.5px;height:320.0px;background:repeating-linear-gradient(#0000 0,#0001 3.00px,#0000 6.00px)"></i>
<i style="left:906.02px;width:11.20px;top:0.5px;height:320.0px;background:repeating-linear-gradient(#0000 0,#0001 2.29px,#0000 4.57px)"></i>
<i style="left:917.21px;width:11.20px;top:0.5px;height:320.0px;background:repeating-linear-gradient(#0000 0,#0001 2.31px,#0000 4.63px)"></i>
<i style="left:928.41px;width:11.20px;top:0.5px;height:320.0px;background:repeating-linear-gradient(#0000 0,#0001 2.99px,#0000 5.97px)"></i>
<i style="left:939.61px;width:11.20px;top:0.5px;height:320.0px;background:repeating-linear-gradient(#0000 0,#0001 1.97px,#0000 3.94px)"></i>
<i style="left:950.80px;width:7.00px;top:0.5px;height:320.0px;background:repeating-linear-gradient(#0000 0,#0001 2.80px,#0000 5.59px)"></i>
</div>
<div class="hm" style="left:1095.2px;top:516.5px;width:35.5px;height:291.4px;background:linear-gradient(#00f 0px,#003eff 14px,#0645ff 15px,#fdfdff 33px,#fff 34px,#fff 45px,#fdfdfd 46px,#515151 76px,#4c5454 78px,#019595 108px,#009c8d 111px,#0f0 153px,#fbff00 203px,#fffe00 204px,#ff8200 240px,#fd7f00 241px,#000 291px)"></div>
<svg width="1965" height="950" viewBox="0 0 1965 950">
<rect x="126.85" y="15.35" width="955.15" height="395.5" fill="none" stroke="#000" stroke-width="2.3"/>
<path d="M130.75 15.35v17.5M209.07 15.35v17.5M287.39 15.35v17.5M365.71 15.35v17.5M444.03 15.35v17.5M522.35 15.35v17.5M634.31 15.35v17.5M746.27 15.35v17.5M858.23 15.35v17.5M970.19 15.35v17.5M1082.15 15.35v17.5M126.85 331.75h17.5M126.85 252.65h17.5M126.85 173.55h17.5M126.85 94.45h17.5" stroke="#000" stroke-width="2.1" fill="none"/>
<path d="M130.75 411.15v-16.3M209.07 411.15v-16.3M287.39 411.15v-16.3M365.71 411.15v-16.3M444.03 411.15v-16.3M522.35 411.15v-16.3M634.31 411.15v-16.3M746.27 411.15v-16.3M858.23 411.15v-16.3M970.19 411.15v-16.3M1082.15 411.15v-16.3" stroke="#fff" stroke-width="2.1" fill="none"/>
<path d="M404.87 14.65V412.05" stroke="#fff" stroke-width="5.3" stroke-dasharray="9.5 9.15" fill="none"/>
<text x="112.65" y="420.75" font-size="36" text-anchor="end" stroke="#000">0.0</text>
<text x="112.65" y="341.65" font-size="36" text-anchor="end" stroke="#000">0.1</text>
<text x="112.65" y="262.55" font-size="36" text-anchor="end" stroke="#000">0.2</text>
<text x="112.65" y="183.45" font-size="36" text-anchor="end" stroke="#000">0.3</text>
<text x="112.65" y="104.35" font-size="36" text-anchor="end" stroke="#000">0.4</text>
<text x="112.65" y="25.25" font-size="36" text-anchor="end" stroke="#000">0.5</text>
<text transform="translate(28.2 213.1) rotate(-90)" font-size="35.2" text-anchor="middle" stroke="#000">Energy (eV)</text>
<text x="152.6" y="74.6" font-size="45" font-weight="bold" fill="#fff" stroke="#fff">a</text>
<text x="142.2" y="345.3" font-size="35.6" fill="#fff" stroke="#fff">Bi2223</text>
<text x="142.2" y="379.6" font-size="35.6" fill="#fff" stroke="#fff">Normal</text>
<rect x="124.4" y="453.05" width="955.2" height="395.35" fill="none" stroke="#000" stroke-width="2.3"/>
<path d="M128.4 453.05v17.5M206.72 453.05v17.5M285.04 453.05v17.5M363.36 453.05v17.5M441.68 453.05v17.5M520 453.05v17.5M631.96 453.05v17.5M743.92 453.05v17.5M855.88 453.05v17.5M967.84 453.05v17.5M1079.8 453.05v17.5M124.4 769.33h17.5M124.4 690.26h17.5M124.4 611.19h17.5M124.4 532.12h17.5" stroke="#000" stroke-width="2.1" fill="none"/>
<path d="M128.4 848.7v-16.3M206.72 848.7v-16.3M285.04 848.7v-16.3M363.36 848.7v-16.3M441.68 848.7v-16.3M520 848.7v-16.3M631.96 848.7v-16.3M743.92 848.7v-16.3M855.88 848.7v-16.3M967.84 848.7v-16.3M1079.8 848.7v-16.3" stroke="#fff" stroke-width="2.1" fill="none"/>
<path d="M402.52 452.35V849.6" stroke="#fff" stroke-width="5.3" stroke-dasharray="9.5 9.15" fill="none"/>
<text x="110.9" y="858.3" font-size="36" text-anchor="end" stroke="#000">0.0</text>
<text x="110.9" y="779.23" font-size="36" text-anchor="end" stroke="#000">0.1</text>
<text x="110.9" y="700.16" font-size="36" text-anchor="end" stroke="#000">0.2</text>
<text x="110.9" y="621.09" font-size="36" text-anchor="end" stroke="#000">0.3</text>
<text x="110.9" y="542.02" font-size="36" text-anchor="end" stroke="#000">0.4</text>
<text x="110.9" y="462.95" font-size="36" text-anchor="end" stroke="#000">0.5</text>
<text transform="translate(28.2 650.73) rotate(-90)" font-size="35.2" text-anchor="middle" stroke="#000">Energy (eV)</text>
<text x="152.6" y="514.6" font-size="45" font-weight="bold" fill="#fff" stroke="#fff">b</text>
<text x="142.2" y="782.4" font-size="35.6" fill="#fff" stroke="#fff">Bi2223</text>
<text x="142.2" y="817.7" font-size="35.6" fill="#fff" stroke="#fff">SC</text>
<text x="128.4" y="891.6" font-size="36" text-anchor="middle" stroke="#000">-0.5</text>
<text x="206.72" y="891.6" font-size="36" text-anchor="middle" stroke="#000">-0.4</text>
<text x="285.04" y="891.6" font-size="36" text-anchor="middle" stroke="#000">-0.3</text>
<text x="363.36" y="891.6" font-size="36" text-anchor="middle" stroke="#000">-0.2</text>
<text x="441.68" y="891.6" font-size="36" text-anchor="middle" stroke="#000">-0.1</text>
<text x="520" y="891.6" font-size="36" text-anchor="middle" stroke="#000">0.0</text>
<text x="631.96" y="891.6" font-size="36" text-anchor="middle" stroke="#000">0.1</text>
<text x="743.92" y="891.6" font-size="36" text-anchor="middle" stroke="#000">0.2</text>
<text x="855.88" y="891.6" font-size="36" text-anchor="middle" stroke="#000">0.3</text>
<text x="967.84" y="891.6" font-size="36" text-anchor="middle" stroke="#000">0.4</text>
<text x="1079.8" y="891.6" font-size="36" text-anchor="middle" stroke="#000">0.5</text>
<text x="322.6" y="938.5" font-size="30.4" text-anchor="middle" stroke="#000">h in (h,0) (r.l.u.)</text>
<text x="804.2" y="938.5" font-size="30.4" text-anchor="middle" stroke="#000">h in (h,h) (r.l.u.)</text>
<rect x="1096.1" y="517.5" width="33.9" height="289.4" fill="none" stroke="#000" stroke-width="2"/>
<text x="1114" y="499.7" font-size="28.2" text-anchor="middle" stroke="#000">high</text>
<text x="1110.4" y="835.8" font-size="28.2" text-anchor="middle" stroke="#000">low</text>
<path d="M1447.2 458.3V831.1" stroke="#000" stroke-width="1.9" stroke-dasharray="2.2 2.2" fill="none"/>
<path d="M1491.5 793H1930.7" stroke="#000" stroke-width="1.9" stroke-dasharray="2.2 2.2" fill="none"/>
<rect x="1342.5" y="440.8" width="605.2" height="407.3" fill="none" stroke="#000" stroke-width="2.5"/>
<path d="M1348.1 440.8v17.2M1447 440.8v17.2M1545.9 440.8v17.2M1644.8 440.8v17.2M1743.7 440.8v17.2M1842.6 440.8v17.2M1941.5 440.8v17.2M1348.1 848.1v-17.2M1447 848.1v-17.2M1545.9 848.1v-17.2M1644.8 848.1v-17.2M1743.7 848.1v-17.2M1842.6 848.1v-17.2M1941.5 848.1v-17.2M1342.5 792.7h17.2M1342.5 693.77h17.2M1342.5 594.84h17.2M1342.5 495.9h17.2M1947.7 792.7h-17.2M1947.7 693.77h-17.2M1947.7 594.84h-17.2M1947.7 495.9h-17.2" stroke="#000" stroke-width="2.1" fill="none"/>
<rect x="1385.5" y="725.5" width="98.5" height="26" fill="#fff"/>
<path d="M1353 793C1360.83 793 1383.83 793 1400 793C1416.17 793 1436.67 793.03 1450 793C1463.33 792.97 1473 792.93 1480 792.8C1487 792.67 1488.83 792.52 1492 792.2C1495.17 791.88 1496.97 791.45 1499 790.9C1501.03 790.35 1502.3 789.88 1504.2 788.9C1506.1 787.92 1508.6 786.85 1510.4 785C1512.2 783.15 1513.58 780.47 1515 777.8C1516.42 775.13 1517.58 772.15 1518.9 769C1520.22 765.85 1520.92 765.32 1522.9 758.9C1524.88 752.48 1527.9 741.02 1530.8 730.5C1533.7 719.98 1537.87 704.47 1540.3 695.8C1542.73 687.13 1543.82 683.77 1545.4 678.5C1546.98 673.23 1548.62 668.03 1549.8 664.2C1550.98 660.37 1551.42 657.87 1552.5 655.5C1553.58 653.13 1555.05 651.37 1556.3 650C1557.55 648.63 1558.8 647.83 1560 647.3C1561.2 646.77 1562.25 646.65 1563.5 646.8C1564.75 646.95 1566.08 647.4 1567.5 648.2C1568.92 649 1570.33 649.88 1572 651.6C1573.67 653.32 1575.65 656.13 1577.5 658.5C1579.35 660.87 1581.18 663.3 1583.1 665.8C1585.02 668.3 1586.9 671.13 1589 673.5C1591.1 675.87 1593.37 678.03 1595.7 680C1598.03 681.97 1600.37 683.73 1603 685.3C1605.63 686.87 1608.67 688.18 1611.5 689.4C1614.33 690.62 1616.83 691.65 1620 692.6C1623.17 693.55 1626.67 694.32 1630.5 695.1C1634.33 695.88 1638.8 696.67 1643 697.3C1647.2 697.93 1649.37 698.42 1655.7 698.9C1662.03 699.38 1672.58 700.02 1681 700.2C1689.42 700.38 1698.87 700.17 1706.2 700C1713.53 699.83 1719.37 699.53 1725 699.2C1730.63 698.87 1735.33 698.43 1740 698C1744.67 697.57 1748.67 697.27 1753 696.6C1757.33 695.93 1762.33 694.93 1766 694C1769.67 693.07 1772.05 692.25 1775 691C1777.95 689.75 1781.28 688.08 1783.7 686.5C1786.12 684.92 1787.65 683.55 1789.5 681.5C1791.35 679.45 1793.13 677.03 1794.8 674.2C1796.47 671.37 1797.83 668.2 1799.5 664.5C1801.17 660.8 1803.35 656.42 1804.8 652C1806.25 647.58 1807.1 643.13 1808.2 638C1809.3 632.87 1809.75 629.9 1811.4 621.2C1813.05 612.5 1815.88 597.58 1818.1 585.8C1820.32 574.02 1822.93 559.22 1824.7 550.5C1826.47 541.78 1827.38 538.67 1828.7 533.5C1830.02 528.33 1831.55 523.75 1832.6 519.5C1833.65 515.25 1833.95 511.32 1835 508C1836.05 504.68 1837.7 501.83 1838.9 499.6C1840.1 497.37 1841.08 495.97 1842.2 494.6C1843.32 493.23 1844.47 492.2 1845.6 491.4C1846.73 490.6 1847.9 490.12 1849 489.8C1850.1 489.48 1850.95 489.37 1852.2 489.5C1853.45 489.63 1855.03 490.02 1856.5 490.6C1857.97 491.18 1859.33 491.93 1861 493C1862.67 494.07 1864.65 495.67 1866.5 497C1868.35 498.33 1870.27 499.8 1872.1 501C1873.93 502.2 1875.67 503.35 1877.5 504.2C1879.33 505.05 1881.27 505.7 1883.1 506.1C1884.93 506.5 1886.65 506.55 1888.5 506.6C1890.35 506.65 1892.45 506.43 1894.2 506.4C1895.95 506.37 1897.53 506.27 1899 506.4C1900.47 506.53 1901.58 506.72 1903 507.2C1904.42 507.68 1906.03 508.35 1907.5 509.3C1908.97 510.25 1910.33 511.12 1911.8 512.9C1913.27 514.68 1914.82 517.05 1916.3 520C1917.78 522.95 1919.22 526.35 1920.7 530.6C1922.18 534.85 1923.73 539.98 1925.2 545.5C1926.67 551.02 1927.68 555.15 1929.5 563.7C1931.32 572.25 1934.03 585.02 1936.1 596.8C1938.17 608.58 1940.93 628.13 1941.9 634.4" stroke="#00f" stroke-width="6.1" fill="none" stroke-linejoin="round"/>
<path d="M1405 793C1406.5 792.95 1411.33 792.82 1414 792.7C1416.67 792.58 1418.6 792.55 1421 792.3C1423.4 792.05 1426.07 791.75 1428.4 791.2C1430.73 790.65 1432.9 789.92 1435 789C1437.1 788.08 1438.95 786.93 1441 785.7C1443.05 784.47 1445.18 783.02 1447.3 781.6C1449.42 780.18 1451.58 778.58 1453.7 777.2C1455.82 775.82 1457.9 774.5 1460 773.3C1462.1 772.1 1464.22 771.05 1466.3 770C1468.38 768.95 1470.4 767.9 1472.5 767C1474.6 766.1 1476.32 765.48 1478.9 764.6C1481.48 763.72 1484.83 762.55 1488 761.7C1491.17 760.85 1494.23 760.25 1497.9 759.5C1501.57 758.75 1505.8 757.98 1510 757.2C1514.2 756.42 1514.6 756.25 1523.1 754.8C1531.6 753.35 1546.78 750.87 1561 748.5C1575.22 746.13 1592.62 743.28 1608.4 740.6C1624.18 737.92 1642.55 734.68 1655.7 732.4C1668.85 730.12 1678.25 728.5 1687.3 726.9C1696.35 725.3 1703.5 724.05 1710 722.8C1716.5 721.55 1721.97 720.45 1726.3 719.4C1730.63 718.35 1733.05 717.57 1736 716.5C1738.95 715.43 1741.5 714.45 1744 713C1746.5 711.55 1748.8 709.85 1751 707.8C1753.2 705.75 1755.2 703.33 1757.2 700.7C1759.2 698.07 1761.17 694.95 1763 692C1764.83 689.05 1765.48 688.55 1768.2 683C1770.92 677.45 1775.62 666.8 1779.3 658.7C1782.98 650.6 1787.52 640.1 1790.3 634.4C1793.08 628.7 1794.15 627.45 1796 624.5C1797.85 621.55 1799.4 619.28 1801.4 616.7C1803.4 614.12 1805.8 611.35 1808 609C1810.2 606.65 1811.77 605.18 1814.6 602.6C1817.43 600.02 1821.32 596.67 1825 593.5C1828.68 590.33 1831.07 588.2 1836.7 583.6C1842.33 579 1851.43 571.8 1858.8 565.9C1866.17 560 1875.7 552.3 1880.9 548.2C1886.1 544.1 1887.4 543.17 1890 541.3C1892.6 539.43 1894.48 538.18 1896.5 537C1898.52 535.82 1900.68 534.8 1902.1 534.2C1903.52 533.6 1904.12 533.57 1905 533.4C1905.88 533.23 1906.48 533.03 1907.4 533.2C1908.32 533.37 1909.4 533.58 1910.5 534.4C1911.6 535.22 1912.83 536.45 1914 538.1C1915.17 539.75 1916.38 541.87 1917.5 544.3C1918.62 546.73 1919.45 549.08 1920.7 552.7C1921.95 556.32 1923.53 561.22 1925 566C1926.47 570.78 1927.65 573.68 1929.5 581.4C1931.35 589.12 1934.18 601.62 1936.1 612.3C1938.02 622.98 1940.18 639.97 1941 645.5" stroke="#f00" stroke-width="6.1" fill="none" stroke-linejoin="round"/>
<path d="M1348 793C1353.33 793 1371.33 793 1380 793C1388.67 793 1395.08 792.95 1400 793C1404.92 793.05 1406.33 793.13 1409.5 793.3C1412.67 793.47 1415.85 793.68 1419 794C1422.15 794.32 1425.23 794.48 1428.4 795.2C1431.57 795.92 1434.85 797.08 1438 798.3C1441.15 799.52 1444.22 800.93 1447.3 802.5C1450.38 804.07 1453.33 806.02 1456.5 807.7C1459.67 809.38 1463.38 811.22 1466.3 812.6C1469.22 813.98 1471.37 814.95 1474 816C1476.63 817.05 1479.52 818.13 1482.1 818.9C1484.68 819.67 1487.13 820.23 1489.5 820.6C1491.87 820.97 1494.22 821.13 1496.3 821.1C1498.38 821.07 1500.17 820.88 1502 820.4C1503.83 819.92 1505.72 819.07 1507.3 818.2C1508.88 817.33 1509.95 816.4 1511.5 815.2C1513.05 814 1515.2 812.77 1516.6 811C1518 809.23 1518.85 806.97 1519.9 804.6C1520.95 802.23 1521.08 801.78 1522.9 796.8C1524.72 791.82 1528.17 783.12 1530.8 774.7C1533.43 766.28 1536.07 755.77 1538.7 746.3C1541.33 736.83 1544.6 724.57 1546.6 717.9C1548.6 711.23 1549.62 709.73 1550.7 706.3C1551.78 702.87 1552.13 699.65 1553.1 697.3C1554.07 694.95 1555.43 693.37 1556.5 692.2C1557.57 691.03 1558.58 690.67 1559.5 690.3C1560.42 689.93 1560.92 689.78 1562 690C1563.08 690.22 1564.58 690.75 1566 691.6C1567.42 692.45 1568.75 693.27 1570.5 695.1C1572.25 696.93 1574.4 699.87 1576.5 702.6C1578.6 705.33 1580.93 708.52 1583.1 711.5C1585.27 714.48 1587.4 717.6 1589.5 720.5C1591.6 723.4 1593.62 726.4 1595.7 728.9C1597.78 731.4 1599.88 733.55 1602 735.5C1604.12 737.45 1606.07 738.95 1608.4 740.6C1610.73 742.25 1613.38 743.93 1616 745.4C1618.62 746.87 1619.58 747.6 1624.1 749.4C1628.62 751.2 1637.12 754.43 1643.1 756.2C1649.08 757.97 1652.77 758.6 1660 760C1667.23 761.4 1677.67 763.22 1686.5 764.6C1695.33 765.98 1706.58 767.37 1713 768.3C1719.42 769.23 1721.68 769.53 1725 770.2C1728.32 770.87 1730.4 771.57 1732.9 772.3C1735.4 773.03 1737.78 773.65 1740 774.6C1742.22 775.55 1744.2 776.63 1746.2 778C1748.2 779.37 1750.17 780.97 1752 782.8C1753.83 784.63 1755.45 786.67 1757.2 789C1758.95 791.33 1760.67 794 1762.5 796.8C1764.33 799.6 1766.32 802.85 1768.2 805.8C1770.08 808.75 1771.95 811.77 1773.8 814.5C1775.65 817.23 1777.6 819.98 1779.3 822.2C1781 824.42 1782.53 826.33 1784 827.8C1785.47 829.27 1786.93 830.23 1788.1 831C1789.27 831.77 1790.12 832.1 1791 832.4C1791.88 832.7 1792.52 832.9 1793.4 832.8C1794.28 832.7 1795.33 832.47 1796.3 831.8C1797.27 831.13 1798.17 830.18 1799.2 828.8C1800.23 827.42 1801.4 825.7 1802.5 823.5C1803.6 821.3 1804.15 820.6 1805.8 815.6C1807.45 810.6 1810.18 801.6 1812.4 793.5C1814.62 785.4 1817.25 774.17 1819.1 767C1820.95 759.83 1822.03 755.67 1823.5 750.5C1824.97 745.33 1826.43 740.22 1827.9 736C1829.37 731.78 1830.83 728.28 1832.3 725.2C1833.77 722.12 1835.42 719.53 1836.7 717.5C1837.98 715.47 1838.88 714.18 1840 713C1841.12 711.82 1842.47 711 1843.4 710.4C1844.33 709.8 1844.87 709.62 1845.6 709.4C1846.33 709.18 1846.9 708.97 1847.8 709.1C1848.7 709.23 1849.9 709.55 1851 710.2C1852.1 710.85 1852.9 711.27 1854.4 713C1855.9 714.73 1858.15 717.87 1860 720.6C1861.85 723.33 1863.67 726.5 1865.5 729.4C1867.33 732.3 1869.17 735.28 1871 738C1872.83 740.72 1874.67 743.37 1876.5 745.7C1878.33 748.03 1880.17 750.08 1882 752C1883.83 753.92 1885.5 755.58 1887.5 757.2C1889.5 758.82 1891.78 760.37 1894 761.7C1896.22 763.03 1898.38 764.12 1900.8 765.2C1903.22 766.28 1905.92 767.25 1908.5 768.2C1911.08 769.15 1912.8 769.63 1916.3 770.9C1919.8 772.17 1925.38 774.1 1929.5 775.8C1933.62 777.5 1939.08 780.22 1941 781.1" stroke="#000" stroke-width="6.1" fill="none" stroke-linejoin="round"/>
<text x="1348.1" y="891.3" font-size="36" text-anchor="middle" stroke="#000">-0.1</text>
<text x="1447" y="891.3" font-size="36" text-anchor="middle" stroke="#000">0</text>
<text x="1545.9" y="891.3" font-size="36" text-anchor="middle" stroke="#000">0.1</text>
<text x="1644.8" y="891.3" font-size="36" text-anchor="middle" stroke="#000">0.2</text>
<text x="1743.7" y="891.3" font-size="36" text-anchor="middle" stroke="#000">0.3</text>
<text x="1842.6" y="891.3" font-size="36" text-anchor="middle" stroke="#000">0.4</text>
<text x="1941.5" y="891.3" font-size="36" text-anchor="middle" stroke="#000">0.5</text>
<text x="1324.3" y="802.8" font-size="36" text-anchor="end" stroke="#000">0</text>
<text x="1324.3" y="703.87" font-size="36" text-anchor="end" stroke="#000">0.04</text>
<text x="1324.3" y="604.94" font-size="36" text-anchor="end" stroke="#000">0.08</text>
<text x="1324.3" y="506" font-size="36" text-anchor="end" stroke="#000">0.12</text>
<text x="1650" y="942.1" font-size="35.2" text-anchor="middle" stroke="#000">Energy (eV)</text>
<text transform="translate(1222 729.3) rotate(-90)" font-size="35.2" stroke="#000">Im <tspan font-family="&quot;DejaVu Serif&quot;,&quot;Liberation Serif&quot;,serif" font-size="31">χ</tspan><tspan font-size="24" dy="5">c</tspan><tspan dy="-5"> (</tspan><tspan font-weight="bold" font-style="italic">q</tspan>,<tspan font-family="&quot;Liberation Serif&quot;,&quot;DejaVu Serif&quot;,serif" font-size="38">ω</tspan>)</text>
<text x="1376.5" y="494.2" font-size="45" font-weight="bold" stroke="#000">c</text>
<text x="1459" y="490.7" font-size="30.5" stroke="#000">Bi2223</text>
<text x="1460.5" y="520.9" font-size="30.5" stroke="#000">Δ = 60 meV</text>
<text x="1461.5" y="553.7" font-size="30.5" stroke="#000"><tspan font-weight="bold" font-style="italic">q</tspan> = (0.15, 0)</text>
<text x="1561.5" y="625.7" font-size="30.5" fill="#00f" stroke="#00f">SC</text>
<text x="1385" y="749.4" font-size="30.5" fill="#f00" stroke="#f00">Normal</text>
<rect x="1565" y="770" width="136" height="30" fill="#fff"/>
<text x="1564.5" y="795.2" font-size="30.5" stroke="#000">Difference</text>
</svg></div></body></html>
